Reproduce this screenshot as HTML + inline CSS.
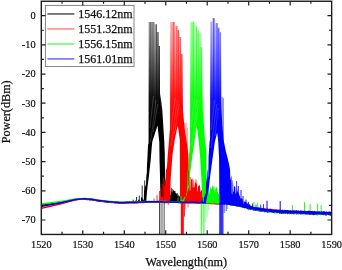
<!DOCTYPE html>
<html lang="en">
<head>
<meta charset="utf-8">
<title>Spectrum</title>
<style>
html,body{margin:0;padding:0;background:#fff;}
body{width:342px;height:270px;overflow:hidden;}
svg{display:block;}
text{font-family:"Liberation Serif","Times New Roman",serif;fill:#111;}
.tk{font-size:10.3px;stroke:#111;stroke-width:0.2px;}
.lb{font-size:12.2px;stroke:#111;stroke-width:0.25px;}
.lg{font-size:12px;stroke:#111;stroke-width:0.25px;}
</style>
</head>
<body>
<svg width="342" height="270" viewBox="0 0 342 270">
<defs>
<clipPath id="clip"><rect x="41.3" y="1.25" width="290.35" height="233.2"/></clipPath>
<linearGradient id="grad_k" gradientUnits="userSpaceOnUse" x1="0" y1="20" x2="0" y2="120"><stop offset="0" stop-color="#000000" stop-opacity="0.22"/><stop offset="0.25" stop-color="#000000" stop-opacity="0.38"/><stop offset="0.5" stop-color="#000000" stop-opacity="0.62"/><stop offset="0.78" stop-color="#000000" stop-opacity="0.9"/><stop offset="1" stop-color="#000000" stop-opacity="1"/></linearGradient>
<linearGradient id="grad_r" gradientUnits="userSpaceOnUse" x1="0" y1="20" x2="0" y2="120"><stop offset="0" stop-color="#ff0000" stop-opacity="0.22"/><stop offset="0.25" stop-color="#ff0000" stop-opacity="0.38"/><stop offset="0.5" stop-color="#ff0000" stop-opacity="0.62"/><stop offset="0.78" stop-color="#ff0000" stop-opacity="0.9"/><stop offset="1" stop-color="#ff0000" stop-opacity="1"/></linearGradient>
<linearGradient id="grad_g" gradientUnits="userSpaceOnUse" x1="0" y1="20" x2="0" y2="120"><stop offset="0" stop-color="#00ff00" stop-opacity="0.22"/><stop offset="0.25" stop-color="#00ff00" stop-opacity="0.38"/><stop offset="0.5" stop-color="#00ff00" stop-opacity="0.62"/><stop offset="0.78" stop-color="#00ff00" stop-opacity="0.9"/><stop offset="1" stop-color="#00ff00" stop-opacity="1"/></linearGradient>
<linearGradient id="grad_b" gradientUnits="userSpaceOnUse" x1="0" y1="20" x2="0" y2="120"><stop offset="0" stop-color="#0000ff" stop-opacity="0.22"/><stop offset="0.25" stop-color="#0000ff" stop-opacity="0.38"/><stop offset="0.5" stop-color="#0000ff" stop-opacity="0.62"/><stop offset="0.78" stop-color="#0000ff" stop-opacity="0.9"/><stop offset="1" stop-color="#0000ff" stop-opacity="1"/></linearGradient>
</defs>
<rect width="342" height="270" fill="#fff"/>
<g clip-path="url(#clip)">
<g id="trace_k">
<path d="M41.3,204.65 41.55,204.61 41.8,204.57 42.05,204.53 42.3,204.49 42.55,204.45 42.8,204.41 43.05,204.37 43.3,204.33 43.55,204.29 43.8,204.26 44.05,204.22 44.3,204.18 44.55,204.14 44.8,204.1 45.05,204.06 45.3,204.02 45.55,203.98 45.8,203.94 46.05,203.9 46.3,203.86 46.55,203.82 46.8,203.78 47.05,203.74 47.3,203.7 47.55,203.66 47.8,203.62 48.05,203.58 48.3,203.55 48.55,203.51 48.8,203.47 49.05,203.43 49.3,203.39 49.55,203.35 49.8,203.31 50.05,203.27 50.3,203.23 50.55,203.19 50.8,203.15 51.05,203.11 51.3,203.07 51.55,203.03 51.8,202.99 52.05,202.95 52.3,202.91 52.55,202.87 52.8,202.83 53.05,202.8 53.3,202.76 53.55,202.72 53.8,202.68 54.05,202.64 54.3,202.6 54.55,202.56 54.8,202.52 55.05,202.48 55.3,202.44 55.55,202.4 55.8,202.36 56.05,202.32 56.3,202.28 56.55,202.24 56.8,202.2 57.05,202.16 57.3,202.12 57.55,202.09 57.8,202.05 58.05,202.01 58.3,201.97 58.55,201.93 58.8,201.89 59.05,201.85 59.3,201.81 59.55,201.77 59.8,201.73 60.05,201.69 60.3,201.64 60.55,201.59 60.8,201.54 61.05,201.49 61.3,201.43 61.55,201.38 61.8,201.33 62.05,201.28 62.3,201.23 62.55,201.18 62.8,201.13 63.05,201.08 63.3,201.03 63.55,200.98 63.8,200.93 64.05,200.88 64.3,200.83 64.55,200.78 64.8,200.73 65.05,200.67 65.3,200.62 65.55,200.57 65.8,200.52 66.05,200.47 66.3,200.42 66.55,200.37 66.8,200.32 67.05,200.27 67.3,200.22 67.55,200.17 67.8,200.12 68.05,200.07 68.3,200.02 68.55,199.97 68.8,199.91 69.05,199.86 69.3,199.81 69.55,199.76 69.8,199.71 70.05,199.66 70.3,199.61 70.55,199.56 70.8,199.51 71.05,199.46 71.3,199.41 71.55,199.36 71.8,199.31 72.05,199.26 72.3,199.21 72.55,199.15 72.8,199.1 73.05,199.05 73.3,199 73.55,198.95 73.8,198.9 74.05,198.85 74.3,198.8 74.55,198.75 74.8,198.7 75.05,198.65 75.3,198.63 75.55,198.61 75.8,198.59 76.05,198.57 76.3,198.55 76.55,198.53 76.8,198.51 77.05,198.49 77.3,198.47 77.55,198.45 77.8,198.43 78.05,198.41 78.3,198.39 78.55,198.37 78.8,198.35 79.05,198.33 79.3,198.31 79.55,198.29 79.8,198.27 80.05,198.25 80.3,198.23 80.55,198.21 80.8,198.19 81.05,198.17 81.3,198.15 81.55,198.13 81.8,198.11 82.05,198.09 82.3,198.07 82.55,198.05 82.8,198.03 83.05,198.31 83.3,198.28 83.55,198.26 83.8,198.26 84.05,198.28 84.3,198.3 84.55,198.32 84.8,198.34 85.05,198.35 85.3,198.37 85.55,198.39 85.8,198.41 86.05,198.43 86.3,198.44 86.55,198.46 86.8,198.48 87.05,198.5 87.3,198.51 87.55,198.53 87.8,198.55 88.05,198.57 88.3,198.59 88.55,198.6 88.8,198.62 89.05,198.64 89.3,198.66 89.55,198.68 89.8,198.69 90.05,198.71 90.3,198.73 90.55,198.75 90.8,198.76 91.05,198.78 91.3,198.8 91.55,198.82 91.8,198.84 92.05,198.86 92.3,198.91 92.55,198.95 92.8,199 93.05,199.04 93.3,199.09 93.55,199.13 93.8,199.18 94.05,199.23 94.3,199.27 94.55,199.32 94.8,199.36 95.05,199.41 95.3,199.46 95.55,199.5 95.8,199.55 96.05,199.59 96.3,199.64 96.55,199.68 96.8,199.73 97.05,199.78 97.3,199.82 97.55,199.87 97.8,199.91 98.05,199.96 98.3,199.99 98.55,200.01 98.8,200.04 99.05,200.07 99.3,200.1 99.55,200.13 99.8,200.16 100.05,200.19 100.3,200.22 100.55,200.25 100.8,200.28 101.05,200.31 101.3,200.34 101.55,200.36 101.8,200.39 102.05,200.42 102.3,200.45 102.55,200.48 102.8,200.51 103.05,200.54 103.3,200.57 103.55,200.6 103.8,200.63 104.05,200.66 104.3,200.69 104.55,200.71 104.8,200.74 105.05,200.77 105.3,200.8 105.55,200.83 105.8,200.86 106.05,200.89 106.3,200.92 106.55,200.95 106.8,200.98 107.05,201.01 107.3,201.04 107.55,201.06 107.8,201.09 108.05,201.12 108.3,201.15 108.55,201.18 108.8,201.21 109.05,201.24 109.3,201.27 109.55,201.3 109.8,201.33 110.05,201.35 110.3,201.37 110.55,201.39 110.8,201.41 111.05,201.42 111.3,201.44 111.55,201.46 111.8,201.48 112.05,201.49 112.3,201.51 112.55,201.53 112.8,201.55 113.05,201.56 113.3,201.58 113.55,201.6 113.8,201.62 114.05,201.63 114.3,201.65 114.55,201.67 114.8,201.69 115.05,201.7 115.3,201.72 115.55,201.74 115.8,201.76 116.05,201.77 116.3,201.79 116.55,201.81 116.8,201.83 117.05,201.84 117.3,201.86 117.55,201.88 117.8,201.9 118.05,201.91 118.3,201.93 118.55,201.95 118.8,201.97 119.05,201.98 119.3,202 119.55,202.02 119.8,202.04 120.05,202.05 120.3,202.04 120.55,202.04 120.8,202.03 121.05,202.03 121.3,202.02 121.55,202.02 121.8,202.01 122.05,202.01 122.3,202 122.55,202 122.8,201.99 123.05,201.99 123.3,201.98 123.55,201.98 123.8,201.97 124.05,201.97 124.3,201.96 124.55,201.96 124.8,201.95 125.05,201.95 125.3,201.94 125.55,201.94 125.8,201.93 126.05,201.93 126.3,201.92 126.55,201.92 126.8,201.91 127.05,201.91 127.3,201.9 127.55,201.9 127.8,201.89 128.05,201.89 128.3,201.88 128.55,201.88 128.8,201.87 129.05,201.87 129.3,201.86 129.55,201.86 129.8,201.85 130.05,201.85 130.3,201.84 130.55,201.84 130.8,201.83 131.05,201.77 131.3,201.82 131.55,201.77 131.8,201.72 132.05,201.81 132.3,201.8 132.55,201.8 132.8,201.43 133.05,201.37 133.3,201.32 133.55,201.78 133.8,201.77 134.05,201.77 134.3,201.76 134.55,201.76 134.8,201.75 135.05,200.53 135.3,200.47 135.55,200.4 135.8,201.54 136.05,201.5 136.3,201.44 136.55,201.7 136.8,201.69 137.05,201.68 137.3,201.67 137.55,201.66 137.8,201.66 138.05,200.25 138.3,200.17 138.55,200.08 138.8,199.57 139.05,199.44 139.3,199.18 139.55,201.6 139.8,201.59 140.05,201.55 140.3,201.57 140.55,201.56 140.8,201.52 141.05,197.51 141.3,197.07 141.55,196.62 141.8,198.17 142.05,197.86 142.3,197.56 142.55,199.54 142.8,199.35 143.05,199.15 143.3,200.09 143.55,199.96 143.8,199.83 144.05,191.17 144.3,190.54 144.55,189.8 144.8,186.37 145.05,185.48 145.3,184.59 145.55,187.24 145.8,186.06 146.05,184.78 146.3,176.13 146.55,174.3 146.8,172.29 147.05,163.2 147.3,160.74 147.55,154.64 147.8,149.29 148.05,144.83 148.3,144 148.55,143.17 148.8,22 149.05,22 149.3,22 149.55,22 149.8,22 150.05,22 150.3,22 150.55,22 150.8,22 151.05,22 151.3,22 151.55,22 151.8,22 152.05,22 152.3,22 152.55,22 152.8,22 153.05,22 153.3,22 153.55,22 153.8,22 154.05,22 154.3,22 154.55,22 154.8,24.2 155.05,24.2 155.3,24.2 155.55,24.2 155.8,24.2 156.05,24.2 156.3,24.2 156.55,24.2 156.8,24.2 157.05,32 157.3,32 157.55,32 157.8,32 158.05,32 158.3,32 158.55,32 158.8,46 159.05,46 159.3,46 159.55,46 159.8,46 160.05,93.62 160.3,95.24 160.55,96.85 160.8,98.47 161.05,100.09 161.3,101.71 161.55,103.44 161.8,105.63 162.05,107.81 162.3,110 162.55,114 162.8,118 163.05,122 163.3,126 163.55,130 163.8,134 164.05,138 164.3,142 164.55,148.67 164.8,153.38 165.05,179.36 165.3,181.53 165.55,183.7 165.8,178.01 166.05,180.21 166.3,181.73 166.55,189.26 166.8,189.74 167.05,190.21 167.3,179.38 167.55,180.32 167.8,181.26 168.05,183.1 168.3,183.73 168.55,184.37 168.8,185.04 169.05,185.67 169.3,186.31 169.55,186.2 169.8,186.45 170.05,186.7 170.3,195.14 170.55,195.26 170.8,195.37 171.05,187.54 171.3,187.71 171.55,187.88 171.8,192.23 172.05,192.34 172.3,192.46 172.55,188.58 172.8,188.75 173.05,188.91 173.3,190.16 173.55,190.31 173.8,190.46 174.05,191 174.3,191.19 174.55,191.38 174.8,190.46 175.05,190.67 175.3,190.89 175.55,192.88 175.8,193.06 176.05,193.24 176.3,193.53 176.55,193.71 176.8,193.89 177.05,192.83 177.3,193.04 177.55,193.24 177.8,196.2 178.05,196.38 178.3,196.7 178.55,194.24 178.8,194.73 179.05,195.22 179.3,195.76 179.55,196.25 179.8,196.74 180.05,197.48 180.3,197.67 180.55,197.86 180.8,198.11 181.05,198.3 181.3,198.49 181.55,198.41 181.8,198.61 182.05,198.81 182.3,200.84 182.55,200.94 182.8,201.04 183.05,200.82 183.3,200.88 183.55,200.94 183.8,199.84 184.05,199.94 184.3,200.04 184.55,200.33 184.8,200.42 185.05,200.51 185.3,200.49 185.55,200.59 185.8,200.69 186.05,200.95 186.3,201.04 186.55,201.13 186.8,201.09 187.05,201.19 187.3,201.28 187.55,201.51 187.8,201.6 188.05,201.67 188.3,201.76 188.55,201.76 188.8,201.77 189.05,201.77 189.3,201.77 189.55,201.78 189.8,201.78 190.05,201.78 190.3,201.79 190.55,201.79 190.8,201.79 191.05,201.8 191.3,201.8 191.55,201.8 191.8,201.81 192.05,201.81 192.3,201.81 192.55,201.82 192.8,201.82 193.05,201.82 193.3,201.83 193.55,201.83 193.8,201.83 194.05,201.84 194.3,201.84 194.55,201.84 194.8,201.85 195.05,201.85 195.3,201.86 195.55,201.87 195.8,201.88 196.05,201.89 196.3,201.9 196.55,201.91 196.8,201.92 197.05,201.93 197.3,201.94 197.55,201.95 197.8,201.96 198.05,201.97 198.3,201.98 198.55,201.99 198.8,202 199.05,202.01 199.3,202.02 199.55,202.03 199.8,202.04 200.05,202.05 200.3,202.06 200.55,202.07 200.8,202.08 201.05,202.09 201.3,202.1 201.55,202.11 201.8,202.12 202.05,202.13 202.3,202.14 202.55,202.15 202.8,202.16 203.05,202.17 203.3,202.18 203.55,202.19 203.8,202.2 204.05,202.21 204.3,202.22 204.55,202.23 204.8,202.24 205.05,202.25 205.3,202.26 205.55,202.27 205.8,202.28 206.05,202.29 206.3,202.3 206.55,202.31 206.8,202.32 207.05,202.33 207.3,202.34 207.55,202.35 207.8,202.36 208.05,202.37 208.3,202.38 208.55,202.39 208.8,202.4 209.05,202.41 209.3,202.42 209.55,202.43 209.8,202.44 210.05,202.45 210.3,202.46 210.55,202.47 210.8,202.48 211.05,202.49 211.3,202.5 211.55,202.51 211.8,202.52 212.05,202.53 212.3,202.54 212.55,202.55 212.8,202.56 213.05,202.57 213.3,202.58 213.55,202.59 213.8,202.6 214.05,202.61 214.3,202.62 214.55,202.63 214.8,202.64 215.05,202.65 215.3,202.66 215.55,202.67 215.8,202.68 216.05,202.69 216.3,202.7 216.55,202.71 216.8,202.72 217.05,202.73 217.3,202.74 217.55,202.75 217.8,202.76 218.05,202.77 218.3,202.78 218.55,202.79 218.8,202.8 219.05,202.81 219.3,202.82 219.55,202.83 219.8,202.84 220.05,202.85 220.3,202.86 220.55,202.87 220.8,202.88 221.05,202.89 221.3,202.9 221.55,202.91 221.8,202.92 222.05,202.93 222.3,202.94 222.55,202.95 222.8,202.96 223.05,202.97 223.3,202.98 223.55,202.99 223.8,203 224.05,203.01 224.3,203.02 224.55,203.03 224.8,203.04 225.05,202.76 225.3,202.8 225.55,202.84 225.8,202.88 226.05,202.92 226.3,202.96 226.55,203 226.8,203.04 227.05,203.08 227.3,203.11 227.55,203.15 227.8,203.19 228.05,203.23 228.3,203.27 228.55,203.31 228.8,203.35 229.05,203.39 229.3,203.43 229.55,203.47 229.8,203.51 230.05,203.55 230.3,203.59 230.55,203.63 230.8,203.67 231.05,203.71 231.3,203.75 231.55,203.79 231.8,203.83 232.05,203.87 232.3,203.92 232.55,203.95 232.8,203.99 233.05,204.04 233.3,204.07 233.55,204.12 233.8,204.16 234.05,204.2 234.3,204.24 234.55,204.29 234.8,204.41 235.05,204.45 235.3,204.5 235.55,204.45 235.8,204.49 236.05,204.53 236.3,204.56 236.55,204.6 236.8,204.64 237.05,204.81 237.3,204.86 237.55,204.9 237.8,204.99 238.05,205.04 238.3,205.09 238.55,205.13 238.8,205.18 239.05,205.23 239.3,205.17 239.55,205.21 239.8,205.26 240.05,205.49 240.3,205.56 240.55,205.64 240.8,205.4 241.05,205.46 241.3,205.53 241.55,205.72 241.8,205.79 242.05,205.86 242.3,205.89 242.55,205.96 242.8,206.03 243.05,206.19 243.3,206.26 243.55,206.33 243.8,206.21 244.05,206.27 244.3,206.34 244.55,206.38 244.8,206.44 245.05,206.51 245.3,207.09 245.55,207.17 245.8,207.24 246.05,206.87 246.3,206.94 246.55,207.01 246.8,207.21 247.05,207.28 247.3,207.34 247.55,207.7 247.8,207.76 248.05,207.83 248.3,207.46 248.55,207.52 248.8,207.59 249.05,207.7 249.3,207.76 249.55,207.83 249.8,208.03 250.05,208.09 250.3,208.14 250.55,207.84 250.8,207.89 251.05,207.94 251.3,207.96 251.55,208.01 251.8,208.06 252.05,208.54 252.3,208.59 252.55,208.64 252.8,208.5 253.05,208.55 253.3,208.6 253.55,208.45 253.8,208.5 254.05,208.55 254.3,208.75 254.55,208.8 254.8,208.85 255.05,209.18 255.3,209.22 255.55,209.26 255.8,209.34 256.05,209.38 256.3,209.42 256.55,209.28 256.8,209.32 257.05,209.36 257.3,209.2 257.55,209.24 257.8,209.28 258.05,209.75 258.3,209.79 258.55,209.83 258.8,209.43 259.05,209.47 259.3,209.51 259.55,209.93 259.8,209.97 260.05,210.01 260.3,209.63 260.55,209.67 260.8,209.7 261.05,210.29 261.3,210.33 261.55,210.37 261.8,210.3 262.05,210.33 262.3,210.37 262.55,210.22 262.8,210.26 263.05,210.3 263.3,210.29 263.55,210.33 263.8,210.37 264.05,210.51 264.3,210.53 264.55,210.55 264.8,210.63 265.05,210.65 265.3,210.67 265.55,210.62 265.8,210.64 266.05,210.66 266.3,210.78 266.55,210.8 266.8,210.82 267.05,210.42 267.3,210.44 267.55,210.46 267.8,210.71 268.05,210.73 268.3,210.75 268.55,211.01 268.8,211.03 269.05,211.05 269.3,210.85 269.55,210.87 269.8,210.9 270.05,211.29 270.3,211.31 270.55,211.33 270.8,211.05 271.05,211.07 271.3,211.09 271.55,210.95 271.8,210.97 272.05,211 272.3,211.42 272.55,211.44 272.8,211.47 273.05,211.16 273.3,211.18 273.55,211.2 273.8,211.31 274.05,211.33 274.3,211.35 274.55,211.44 274.8,211.46 275.05,211.48 275.3,211.65 275.55,211.67 275.8,211.69 276.05,211.26 276.3,211.28 276.55,211.3 276.8,211.79 277.05,211.81 277.3,211.83 277.55,211.64 277.8,211.66 278.05,211.68 278.3,211.56 278.55,211.58 278.8,211.6 279.05,211.6 279.3,211.62 279.55,211.64 279.8,212.12 280.05,212.14 280.3,212.16 280.55,212.16 280.8,212.18 281.05,212.2 281.3,211.94 281.55,211.96 281.8,211.98 282.05,211.86 282.3,211.88 282.55,211.9 282.8,212.36 283.05,212.38 283.3,212.39 283.55,211.73 283.8,211.74 284.05,211.75 284.3,211.78 284.55,211.79 284.8,211.8 285.05,212.12 285.3,212.13 285.55,212.14 285.8,212.21 286.05,212.22 286.3,212.23 286.55,211.84 286.8,211.85 287.05,211.85 287.3,211.99 287.55,212 287.8,212.01 288.05,211.95 288.3,211.96 288.55,211.97 288.8,212.09 289.05,212.1 289.3,212.11 289.55,212.07 289.8,212.08 290.05,212.09 290.3,212.06 290.55,212.07 290.8,212.08 291.05,212.09 291.3,212.1 291.55,212.11 291.8,212.29 292.05,212.3 292.3,212.3 292.55,212.14 292.8,212.15 293.05,212.16 293.3,212.62 293.55,212.63 293.8,212.64 294.05,212.39 294.3,212.4 294.55,212.41 294.8,212.22 295.05,212.23 295.3,212.24 295.55,212.62 295.8,212.63 296.05,212.64 296.3,212.74 296.55,212.75 296.8,212.76 297.05,212.47 297.3,212.48 297.55,212.49 297.8,212.25 298.05,212.26 298.3,212.27 298.55,212.73 298.8,212.74 299.05,212.75 299.3,212.83 299.55,212.84 299.8,212.85 300.05,212.95 300.3,212.96 300.55,212.97 300.8,212.86 301.05,212.87 301.3,212.88 301.55,212.8 301.8,212.81 302.05,212.82 302.3,212.65 302.55,212.66 302.8,212.67 303.05,212.61 303.3,212.62 303.55,212.63 303.8,212.52 304.05,212.53 304.3,212.53 304.55,213.07 304.8,213.08 305.05,213.09 305.3,212.92 305.55,212.93 305.8,212.94 306.05,212.76 306.3,212.76 306.55,212.77 306.8,212.67 307.05,212.68 307.3,212.69 307.55,212.81 307.8,212.82 308.05,212.83 308.3,213.17 308.55,213.18 308.8,213.19 309.05,212.82 309.3,212.83 309.55,212.83 309.8,212.73 310.05,212.74 310.3,212.75 310.55,212.99 310.8,213 311.05,213 311.3,212.98 311.55,212.99 311.8,213 312.05,213.26 312.3,213.27 312.55,213.28 312.8,213.19 313.05,213.2 313.3,213.21 313.55,213.16 313.8,213.17 314.05,213.18 314.3,213.54 314.55,213.55 314.8,213.56 315.05,213.48 315.3,213.49 315.55,213.5 315.8,213 316.05,213.01 316.3,213.02 316.55,213.12 316.8,213.13 317.05,213.13 317.3,213.26 317.55,213.27 317.8,213.28 318.05,213.05 318.3,213.06 318.55,213.07 318.8,213.56 319.05,213.57 319.3,213.58 319.55,213.59 319.8,213.6 320.05,213.61 320.3,213.29 320.55,213.3 320.8,213.3 321.05,213.74 321.3,213.75 321.55,213.76 321.8,213.52 322.05,213.53 322.3,213.54 322.55,213.32 322.8,213.33 323.05,213.34 323.3,213.63 323.55,213.64 323.8,213.65 324.05,213.69 324.3,213.7 324.55,213.71 324.8,213.75 325.05,213.76 325.3,213.77 325.55,213.96 325.8,213.97 326.05,213.97 326.3,213.94 326.55,213.95 326.8,213.96 327.05,213.62 327.3,213.63 327.55,213.64 327.8,213.66 328.05,213.67 328.3,213.68 328.55,213.4 328.8,213.41 329.05,213.42 329.3,213.71 329.55,213.72 329.8,213.73 330.05,213.57 330.3,213.58 330.55,213.59 330.8,213.55 331.05,213.56 331.3,213.57 331.55,214.07 L331.55,215.51 331.3,215.43 331.05,215.42 330.8,215.41 330.55,215.74 330.3,215.73 330.05,215.72 329.8,215.21 329.55,215.2 329.3,215.19 329.05,215.38 328.8,215.37 328.55,215.36 328.3,214.98 328.05,214.97 327.8,214.96 327.55,215.09 327.3,215.08 327.05,215.07 326.8,215.46 326.55,215.45 326.3,215.44 326.05,215.5 325.8,215.49 325.55,215.48 325.3,215.38 325.05,215.37 324.8,215.36 324.55,214.85 324.3,214.84 324.05,214.83 323.8,215.17 323.55,215.16 323.3,215.15 323.05,214.8 322.8,214.79 322.55,214.78 322.3,214.91 322.05,214.9 321.8,214.89 321.55,215.01 321.3,215 321.05,214.99 320.8,215.18 320.55,215.17 320.3,215.16 320.05,214.76 319.8,214.75 319.55,214.74 319.3,214.71 319.05,214.7 318.8,214.69 318.55,214.9 318.3,214.89 318.05,214.88 317.8,215.35 317.55,215.34 317.3,215.33 317.05,215.22 316.8,215.21 316.55,215.2 316.3,214.75 316.05,214.74 315.8,214.73 315.55,214.79 315.3,214.78 315.05,214.77 314.8,214.93 314.55,214.92 314.3,214.91 314.05,215.21 313.8,215.2 313.55,215.19 313.3,214.69 313.05,214.68 312.8,214.67 312.55,215.13 312.3,215.12 312.05,215.11 311.8,214.59 311.55,214.58 311.3,214.58 311.05,214.45 310.8,214.44 310.55,214.43 310.3,214.96 310.05,214.95 309.8,214.94 309.55,214.85 309.3,214.84 309.05,214.83 308.8,214.59 308.55,214.58 308.3,214.57 308.05,214.28 307.8,214.27 307.55,214.26 307.3,214.71 307.05,214.7 306.8,214.69 306.55,214.17 306.3,214.17 306.05,214.16 305.8,214.22 305.55,214.21 305.3,214.2 305.05,214.29 304.8,214.28 304.55,214.27 304.3,214.17 304.05,214.16 303.8,214.15 303.55,214.22 303.3,214.21 303.05,214.2 302.8,214.3 302.55,214.29 302.3,214.28 302.05,214.34 301.8,214.33 301.55,214.32 301.3,214.36 301.05,214.35 300.8,214.34 300.55,214.57 300.3,214.56 300.05,214.55 299.8,214.02 299.55,214.01 299.3,214 299.05,214.4 298.8,214.39 298.55,214.39 298.3,213.77 298.05,213.76 297.8,213.75 297.55,214.27 297.3,214.26 297.05,214.25 296.8,214.47 296.55,214.46 296.3,214.45 296.05,214.05 295.8,214.04 295.55,214.03 295.3,214.06 295.05,214.05 294.8,214.04 294.55,214.23 294.3,214.22 294.05,214.21 293.8,214.31 293.55,214.3 293.3,214.29 293.05,213.88 292.8,213.87 292.55,213.86 292.3,213.97 292.05,213.96 291.8,213.95 291.55,214.34 291.3,214.33 291.05,214.33 290.8,213.73 290.55,213.72 290.3,213.71 290.05,214.15 289.8,214.14 289.55,214.13 289.3,213.49 289.05,213.48 288.8,213.47 288.55,214.02 288.3,214.01 288.05,214 287.8,214.15 287.55,214.14 287.3,214.14 287.05,213.5 286.8,213.49 286.55,213.48 286.3,213.95 286.05,213.94 285.8,213.93 285.55,213.71 285.3,213.7 285.05,213.69 284.8,213.28 284.55,213.27 284.3,213.26 284.05,214.09 283.8,214.08 283.55,214.07 283.3,213.54 283.05,213.53 282.8,213.52 282.55,213.79 282.3,213.77 282.05,213.75 281.8,213.96 281.55,213.93 281.3,213.91 281.05,213.59 280.8,213.57 280.55,213.55 280.3,213.74 280.05,213.72 279.8,213.7 279.55,213.46 279.3,213.44 279.05,213.42 278.8,213.01 278.55,212.99 278.3,212.97 278.05,213.22 277.8,213.2 277.55,213.18 277.3,213.12 277.05,213.1 276.8,213.08 276.55,213.42 276.3,213.4 276.05,213.38 275.8,212.71 275.55,212.69 275.3,212.67 275.05,213.38 274.8,213.36 274.55,213.34 274.3,213.06 274.05,213.04 273.8,213.02 273.55,213.05 273.3,213.03 273.05,213.01 272.8,212.42 272.55,212.4 272.3,212.38 272.05,212.55 271.8,212.53 271.55,212.51 271.3,212.28 271.05,212.26 270.8,212.24 270.55,212.38 270.3,212.36 270.05,212.34 269.8,212.28 269.55,212.26 269.3,212.24 269.05,212.57 268.8,212.55 268.55,212.53 268.3,212.3 268.05,212.27 267.8,212.25 267.55,212.79 267.3,212.77 267.05,212.75 266.8,212.23 266.55,212.21 266.3,212.19 266.05,211.97 265.8,211.95 265.55,211.93 265.3,212.39 265.05,212.37 264.8,212.35 264.55,212.34 264.3,212.32 264.05,212.3 263.8,211.73 263.55,211.69 263.3,211.65 263.05,211.53 262.8,211.49 262.55,211.45 262.3,211.87 262.05,211.83 261.8,211.79 261.55,211.55 261.3,211.51 261.05,211.47 260.8,211.86 260.55,211.82 260.3,211.78 260.05,211.53 259.8,211.49 259.55,211.45 259.3,211.45 259.05,211.41 258.8,211.37 258.55,211.37 258.3,211.33 258.05,211.29 257.8,210.84 257.55,210.81 257.3,210.77 257.05,210.99 256.8,210.95 256.55,210.92 256.3,210.91 256.05,210.87 255.8,210.83 255.55,210.83 255.3,210.79 255.05,210.75 254.8,210.67 254.55,210.62 254.3,210.57 254.05,210.6 253.8,210.55 253.55,210.5 253.3,210.64 253.05,210.59 252.8,210.54 252.55,209.8 252.3,209.75 252.05,209.7 251.8,209.71 251.55,209.66 251.3,209.61 251.05,209.81 250.8,209.76 250.55,209.7 250.3,209.97 250.05,209.92 249.8,209.86 249.55,209.44 249.3,209.37 249.05,209.29 248.8,209.68 248.55,209.61 248.3,209.53 248.05,209.38 247.8,209.31 247.55,209.23 247.3,209.15 247.05,209.08 246.8,209.01 246.55,208.47 246.3,208.41 246.05,208.35 245.8,208.13 245.55,208.07 245.3,208.01 245.05,208.45 244.8,208.38 244.55,208.31 244.3,208 244.05,207.94 243.8,207.87 243.55,207.92 243.3,207.85 243.05,207.79 242.8,207.94 242.55,207.86 242.3,207.79 242.05,207.28 241.8,207.22 241.55,207.16 241.3,207.45 241.05,207.38 240.8,207.31 240.55,207.04 240.3,206.98 240.05,206.91 239.8,206.67 239.55,206.63 239.3,206.6 239.05,206.98 238.8,206.94 238.55,206.89 238.3,206.52 238.05,206.48 237.8,206.44 237.55,206.54 237.3,206.5 237.05,206.46 236.8,206.47 236.55,206.43 236.3,206.38 236.05,206.25 235.8,206.21 235.55,206.17 235.3,206.09 235.05,206.06 234.8,206.02 234.55,206.06 234.3,206.01 234.05,205.97 233.8,205.94 233.55,205.89 233.3,205.85 233.05,205.77 232.8,205.73 232.55,205.69 232.3,205.65 232.05,205.62 231.8,205.57 231.55,205.53 231.3,205.48 231.05,205.43 230.8,205.38 230.55,205.33 230.3,205.28 230.05,205.23 229.8,205.18 229.55,205.14 229.3,205.09 229.05,205.04 228.8,204.99 228.55,204.94 228.3,204.89 228.05,204.84 227.8,204.8 227.55,204.75 227.3,204.7 227.05,204.65 226.8,204.6 226.55,204.55 226.3,204.5 226.05,204.45 225.8,204.41 225.55,204.36 225.3,204.31 225.05,204.26 224.8,204.54 224.55,204.53 224.3,204.52 224.05,204.51 223.8,204.5 223.55,204.49 223.3,204.48 223.05,204.47 222.8,204.46 222.55,204.45 222.3,204.44 222.05,204.43 221.8,204.42 221.55,204.41 221.3,204.4 221.05,204.39 220.8,204.38 220.55,204.37 220.3,204.36 220.05,204.35 219.8,204.34 219.55,204.33 219.3,204.32 219.05,204.31 218.8,204.3 218.55,204.29 218.3,204.28 218.05,204.27 217.8,204.26 217.55,204.25 217.3,204.24 217.05,204.23 216.8,204.22 216.55,204.21 216.3,204.2 216.05,204.19 215.8,204.18 215.55,204.17 215.3,204.16 215.05,204.15 214.8,204.14 214.55,204.13 214.3,204.12 214.05,204.11 213.8,204.1 213.55,204.09 213.3,204.08 213.05,204.07 212.8,204.06 212.55,204.05 212.3,204.04 212.05,204.03 211.8,204.02 211.55,204.01 211.3,204 211.05,203.99 210.8,203.98 210.55,203.97 210.3,203.96 210.05,203.95 209.8,203.94 209.55,203.93 209.3,203.92 209.05,203.91 208.8,203.9 208.55,203.89 208.3,203.88 208.05,203.87 207.8,203.86 207.55,203.85 207.3,203.84 207.05,203.83 206.8,203.82 206.55,203.81 206.3,203.8 206.05,203.79 205.8,203.78 205.55,203.77 205.3,203.76 205.05,203.75 204.8,203.74 204.55,203.73 204.3,203.72 204.05,203.71 203.8,203.7 203.55,203.69 203.3,203.68 203.05,203.67 202.8,203.66 202.55,203.65 202.3,203.64 202.05,203.63 201.8,203.62 201.55,203.61 201.3,203.6 201.05,203.59 200.8,203.58 200.55,203.57 200.3,203.56 200.05,203.55 199.8,203.54 199.55,203.53 199.3,203.52 199.05,203.51 198.8,203.5 198.55,203.49 198.3,203.48 198.05,203.47 197.8,203.46 197.55,203.45 197.3,203.44 197.05,203.43 196.8,203.42 196.55,203.41 196.3,203.4 196.05,203.39 195.8,203.38 195.55,203.37 195.3,203.36 195.05,203.35 194.8,203.35 194.55,203.34 194.3,203.34 194.05,203.34 193.8,203.33 193.55,203.33 193.3,203.33 193.05,203.32 192.8,203.32 192.55,203.32 192.3,203.31 192.05,203.31 191.8,203.31 191.55,203.3 191.3,203.3 191.05,203.3 190.8,203.29 190.55,203.29 190.3,203.29 190.05,203.28 189.8,203.28 189.55,203.28 189.3,203.27 189.05,203.27 188.8,203.27 188.55,203.26 188.3,203.26 188.05,203.26 187.8,203.25 187.55,203.25 187.3,203.25 187.05,203.24 186.8,203.24 186.55,203.24 186.3,203.23 186.05,203.23 185.8,203.23 185.55,203.22 185.3,203.22 185.05,203.22 184.8,203.21 184.55,203.21 184.3,203.21 184.05,203.2 183.8,203.2 183.55,203.2 183.3,203.19 183.05,203.19 182.8,203.19 182.55,203.18 182.3,203.18 182.05,203.18 181.8,203.17 181.55,203.17 181.3,203.17 181.05,203.16 180.8,203.16 180.55,203.16 180.3,203.15 180.05,203.15 179.8,203.15 179.55,203.14 179.3,203.14 179.05,203.14 178.8,203.13 178.55,203.13 178.3,203.13 178.05,203.12 177.8,203.12 177.55,203.12 177.3,203.11 177.05,203.11 176.8,203.11 176.55,203.1 176.3,203.1 176.05,203.1 175.8,203.09 175.55,203.09 175.3,203.09 175.05,203.08 174.8,203.08 174.55,203.08 174.3,203.07 174.05,203.07 173.8,203.07 173.55,203.06 173.3,203.06 173.05,203.06 172.8,203.05 172.55,203.05 172.3,203.05 172.05,203.04 171.8,203.04 171.55,203.04 171.3,203.03 171.05,203.03 170.8,203.03 170.55,203.02 170.3,203.02 170.05,203.02 169.8,203.01 169.55,203.01 169.3,203.01 169.05,203 168.8,203 168.55,203 168.3,202.99 168.05,202.99 167.8,202.99 167.55,202.98 167.3,202.98 167.05,202.98 166.8,202.97 166.55,202.97 166.3,202.97 166.05,202.96 165.8,202.96 165.55,202.96 165.3,202.95 165.05,202.95 164.8,202.95 164.55,202.94 164.3,202.94 164.05,202.94 163.8,202.93 163.55,202.93 163.3,202.93 163.05,202.92 162.8,202.92 162.55,202.92 162.3,202.91 162.05,202.91 161.8,202.91 161.55,202.9 161.3,202.9 161.05,202.9 160.8,202.89 160.55,202.89 160.3,191.67 160.05,179 159.8,169 159.55,161.5 159.3,142 159.05,139.69 158.8,137.39 158.55,135.08 158.3,132.78 158.05,130.47 157.8,128.17 157.55,125.86 157.3,126.03 157.05,126.81 156.8,127.59 156.55,128.38 156.3,129.16 156.05,129.94 155.8,130.72 155.55,131.51 155.3,132.29 155.05,133.07 154.8,133.86 154.55,134.64 154.3,135.42 154.05,136.21 153.8,136.99 153.55,137.77 153.3,138.55 153.05,139.34 152.8,140.12 152.55,140.9 152.3,141.69 152.05,143.71 151.8,146.57 151.55,149.43 151.3,152.5 151.05,155.62 150.8,158.75 150.55,161.33 150.3,163.56 150.05,165.78 149.8,168 149.55,170.25 149.3,172.5 149.05,174.75 148.8,177 148.55,178.87 148.3,180.75 148.05,182.62 147.8,184.5 147.55,186.5 147.3,189 147.05,191.5 146.8,194 146.55,197.17 146.3,202.87 146.05,202.88 145.8,202.89 145.55,202.9 145.3,202.91 145.05,202.91 144.8,202.92 144.55,202.93 144.3,202.94 144.05,202.95 143.8,202.96 143.55,202.97 143.3,202.97 143.05,202.98 142.8,202.99 142.55,203 142.3,203.01 142.05,203.01 141.8,203.02 141.55,203.03 141.3,203.04 141.05,203.05 140.8,203.06 140.55,203.06 140.3,203.07 140.05,203.08 139.8,203.09 139.55,203.1 139.3,203.11 139.05,203.12 138.8,203.12 138.55,203.13 138.3,203.14 138.05,203.15 137.8,203.16 137.55,203.16 137.3,203.17 137.05,203.18 136.8,203.19 136.55,203.2 136.3,203.21 136.05,203.22 135.8,203.22 135.55,203.23 135.3,203.24 135.05,203.25 134.8,203.25 134.55,203.26 134.3,203.26 134.05,203.27 133.8,203.27 133.55,203.28 133.3,203.28 133.05,203.29 132.8,203.29 132.55,203.3 132.3,203.3 132.05,203.31 131.8,203.31 131.55,203.32 131.3,203.32 131.05,203.33 130.8,203.33 130.55,203.34 130.3,203.34 130.05,203.35 129.8,203.35 129.55,203.36 129.3,203.36 129.05,203.37 128.8,203.37 128.55,203.38 128.3,203.38 128.05,203.39 127.8,203.39 127.55,203.4 127.3,203.4 127.05,203.41 126.8,203.41 126.55,203.42 126.3,203.42 126.05,203.43 125.8,203.43 125.55,203.44 125.3,203.44 125.05,203.45 124.8,203.45 124.55,203.46 124.3,203.46 124.05,203.47 123.8,203.47 123.55,203.48 123.3,203.48 123.05,203.49 122.8,203.49 122.55,203.5 122.3,203.5 122.05,203.51 121.8,203.51 121.55,203.52 121.3,203.52 121.05,203.53 120.8,203.53 120.55,203.54 120.3,203.54 120.05,203.55 119.8,203.54 119.55,203.52 119.3,203.5 119.05,203.48 118.8,203.47 118.55,203.45 118.3,203.43 118.05,203.41 117.8,203.4 117.55,203.38 117.3,203.36 117.05,203.34 116.8,203.33 116.55,203.31 116.3,203.29 116.05,203.27 115.8,203.26 115.55,203.24 115.3,203.22 115.05,203.2 114.8,203.19 114.55,203.17 114.3,203.15 114.05,203.13 113.8,203.12 113.55,203.1 113.3,203.08 113.05,203.06 112.8,203.05 112.55,203.03 112.3,203.01 112.05,202.99 111.8,202.98 111.55,202.96 111.3,202.94 111.05,202.92 110.8,202.91 110.55,202.89 110.3,202.87 110.05,202.85 109.8,202.83 109.55,202.8 109.3,202.77 109.05,202.74 108.8,202.71 108.55,202.68 108.3,202.65 108.05,202.62 107.8,202.59 107.55,202.56 107.3,202.54 107.05,202.51 106.8,202.48 106.55,202.45 106.3,202.42 106.05,202.39 105.8,202.36 105.55,202.33 105.3,202.3 105.05,202.27 104.8,202.24 104.55,202.21 104.3,202.19 104.05,202.16 103.8,202.13 103.55,202.1 103.3,202.07 103.05,202.04 102.8,202.01 102.55,201.98 102.3,201.95 102.05,201.92 101.8,201.89 101.55,201.86 101.3,201.84 101.05,201.81 100.8,201.78 100.55,201.75 100.3,201.72 100.05,201.69 99.8,201.66 99.55,201.63 99.3,201.6 99.05,201.57 98.8,201.54 98.55,201.51 98.3,201.49 98.05,201.46 97.8,201.41 97.55,201.37 97.3,201.32 97.05,201.28 96.8,201.23 96.55,201.18 96.3,201.14 96.05,201.09 95.8,201.05 95.55,201 95.3,200.96 95.05,200.91 94.8,200.86 94.55,200.82 94.3,200.77 94.05,200.73 93.8,200.68 93.55,200.63 93.3,200.59 93.05,200.54 92.8,200.5 92.55,200.45 92.3,200.41 92.05,200.36 91.8,200.34 91.55,200.32 91.3,200.3 91.05,200.28 90.8,200.26 90.55,200.25 90.3,200.23 90.05,200.21 89.8,200.19 89.55,200.18 89.3,200.16 89.05,200.14 88.8,200.12 88.55,200.1 88.3,200.09 88.05,200.07 87.8,200.05 87.55,200.03 87.3,200.01 87.05,200 86.8,199.98 86.55,199.96 86.3,199.94 86.05,199.93 85.8,199.91 85.55,199.89 85.3,199.87 85.05,199.85 84.8,199.84 84.55,199.82 84.3,199.8 84.05,199.78 83.8,199.76 83.55,199.76 83.3,199.78 83.05,199.81 82.8,199.53 82.55,199.55 82.3,199.57 82.05,199.59 81.8,199.61 81.55,199.63 81.3,199.65 81.05,199.67 80.8,199.69 80.55,199.71 80.3,199.73 80.05,199.75 79.8,199.77 79.55,199.79 79.3,199.81 79.05,199.83 78.8,199.85 78.55,199.87 78.3,199.89 78.05,199.91 77.8,199.93 77.55,199.95 77.3,199.97 77.05,199.99 76.8,200.01 76.55,200.03 76.3,200.05 76.05,200.07 75.8,200.09 75.55,200.11 75.3,200.13 75.05,200.15 74.8,200.2 74.55,200.25 74.3,200.3 74.05,200.35 73.8,200.4 73.55,200.45 73.3,200.5 73.05,200.55 72.8,200.6 72.55,200.65 72.3,200.71 72.05,200.76 71.8,200.81 71.55,200.86 71.3,200.91 71.05,200.96 70.8,201.01 70.55,201.06 70.3,201.11 70.05,201.16 69.8,201.21 69.55,201.26 69.3,201.31 69.05,201.36 68.8,201.41 68.55,201.47 68.3,201.52 68.05,201.57 67.8,201.62 67.55,201.67 67.3,201.72 67.05,201.77 66.8,201.82 66.55,201.87 66.3,201.92 66.05,201.97 65.8,202.02 65.55,202.07 65.3,202.12 65.05,202.17 64.8,202.23 64.55,202.28 64.3,202.33 64.05,202.38 63.8,202.43 63.55,202.48 63.3,202.53 63.05,202.58 62.8,202.63 62.55,202.68 62.3,202.73 62.05,202.78 61.8,202.83 61.55,202.88 61.3,202.93 61.05,202.99 60.8,203.04 60.55,203.09 60.3,203.14 60.05,203.19 59.8,203.23 59.55,203.27 59.3,203.31 59.05,203.35 58.8,203.39 58.55,203.43 58.3,203.47 58.05,203.51 57.8,203.55 57.55,203.59 57.3,203.62 57.05,203.66 56.8,203.7 56.55,203.74 56.3,203.78 56.05,203.82 55.8,203.86 55.55,203.9 55.3,203.94 55.05,203.98 54.8,204.02 54.55,204.06 54.3,204.1 54.05,204.14 53.8,204.18 53.55,204.22 53.3,204.26 53.05,204.3 52.8,204.33 52.55,204.37 52.3,204.41 52.05,204.45 51.8,204.49 51.55,204.53 51.3,204.57 51.05,204.61 50.8,204.65 50.55,204.69 50.3,204.73 50.05,204.77 49.8,204.81 49.55,204.85 49.3,204.89 49.05,204.93 48.8,204.97 48.55,205.01 48.3,205.05 48.05,205.08 47.8,205.12 47.55,205.16 47.3,205.2 47.05,205.24 46.8,205.28 46.55,205.32 46.3,205.36 46.05,205.4 45.8,205.44 45.55,205.48 45.3,205.52 45.05,205.56 44.8,205.6 44.55,205.64 44.3,205.68 44.05,205.72 43.8,205.76 43.55,205.79 43.3,205.83 43.05,205.87 42.8,205.91 42.55,205.95 42.3,205.99 42.05,206.03 41.8,206.07 41.55,206.11 41.3,206.15Z" fill="url(#grad_k)"/>
<g stroke="#000000"><line x1="149.2" y1="22" x2="149.2" y2="112" stroke-width="1" stroke-opacity="0.3"/><line x1="150.4" y1="22" x2="150.4" y2="112" stroke-width="1" stroke-opacity="0.45"/><line x1="151.7" y1="22" x2="151.7" y2="112" stroke-width="1" stroke-opacity="0.3"/><line x1="152.9" y1="22" x2="152.9" y2="112" stroke-width="1" stroke-opacity="0.42"/><line x1="154" y1="22" x2="154" y2="112" stroke-width="0.9" stroke-opacity="0.3"/><line x1="156.3" y1="24.2" x2="156.3" y2="112" stroke-width="0.9" stroke-opacity="0.7"/><line x1="158" y1="32" x2="158" y2="112" stroke-width="0.9" stroke-opacity="0.7"/><line x1="159.4" y1="46" x2="159.4" y2="112" stroke-width="0.9" stroke-opacity="0.75"/></g>
<line x1="153.5" y1="96" x2="150" y2="128" stroke="#fff" stroke-width="0.6" stroke-opacity="0.3"/>
<line x1="156" y1="100" x2="150.6" y2="142" stroke="#fff" stroke-width="0.6" stroke-opacity="0.3"/>
<line x1="157.6" y1="104" x2="153.2" y2="132" stroke="#fff" stroke-width="0.6" stroke-opacity="0.3"/>
<line x1="159.5" y1="202.13" x2="159.5" y2="234.4" stroke="#000000" stroke-width="0.9" stroke-opacity="0.8"/>
<line x1="161.3" y1="202.15" x2="161.3" y2="234.4" stroke="#000000" stroke-width="0.8" stroke-opacity="0.45"/>
<line x1="163" y1="202.17" x2="163" y2="234.4" stroke="#000000" stroke-width="0.8" stroke-opacity="0.45"/>
<line x1="164.3" y1="202.19" x2="164.3" y2="234.4" stroke="#000000" stroke-width="0.8" stroke-opacity="0.7"/>
<line x1="160.4" y1="202.14" x2="160.4" y2="234.4" stroke="#000000" stroke-width="0.8" stroke-opacity="0.3"/>
<line x1="162.2" y1="202.16" x2="162.2" y2="234.4" stroke="#000000" stroke-width="0.8" stroke-opacity="0.3"/>
<line x1="136.5" y1="202.45" x2="136.5" y2="197" stroke="#000000" stroke-width="0.8"/>
<line x1="142.2" y1="202.26" x2="142.2" y2="185.5" stroke="#000000" stroke-width="0.8"/>
<line x1="144.7" y1="202.18" x2="144.7" y2="180.4" stroke="#000000" stroke-width="0.8"/>
<line x1="133.2" y1="202.54" x2="133.2" y2="199.6" stroke="#000000" stroke-width="0.8"/>
<line x1="139.3" y1="202.36" x2="139.3" y2="195.5" stroke="#000000" stroke-width="0.8"/>
</g>
<g id="trace_r">
<path d="M41.3,207.55 41.55,207.49 41.8,207.44 42.05,207.38 42.3,207.32 42.55,207.27 42.8,207.21 43.05,207.15 43.3,207.1 43.55,207.04 43.8,206.98 44.05,206.92 44.3,206.87 44.55,206.81 44.8,206.75 45.05,206.7 45.3,206.64 45.55,206.58 45.8,206.53 46.05,206.47 46.3,206.41 46.55,206.36 46.8,206.3 47.05,206.24 47.3,206.19 47.55,206.13 47.8,206.07 48.05,206.02 48.3,205.96 48.55,205.9 48.8,205.84 49.05,205.79 49.3,205.73 49.55,205.67 49.8,205.62 50.05,205.56 50.3,205.5 50.55,205.45 50.8,205.39 51.05,205.33 51.3,205.28 51.55,205.22 51.8,205.16 52.05,205.11 52.3,205.05 52.55,204.99 52.8,204.94 53.05,204.88 53.3,204.82 53.55,204.76 53.8,204.71 54.05,204.65 54.3,204.59 54.55,204.54 54.8,204.48 55.05,204.42 55.3,204.37 55.55,204.31 55.8,204.25 56.05,204.2 56.3,204.14 56.55,204.08 56.8,204.03 57.05,203.97 57.3,203.91 57.55,203.86 57.8,203.8 58.05,203.74 58.3,203.68 58.55,203.63 58.8,203.57 59.05,203.51 59.3,203.46 59.55,203.4 59.8,203.34 60.05,203.28 60.3,203.22 60.55,203.15 60.8,203.08 61.05,203.01 61.3,202.94 61.55,202.88 61.8,202.81 62.05,202.74 62.3,202.67 62.55,202.6 62.8,202.54 63.05,202.47 63.3,202.4 63.55,202.33 63.8,202.26 64.05,202.2 64.3,202.13 64.55,202.06 64.8,201.99 65.05,201.92 65.3,201.86 65.55,201.79 65.8,201.72 66.05,201.65 66.3,201.58 66.55,201.51 66.8,201.45 67.05,201.38 67.3,201.31 67.55,201.24 67.8,201.17 68.05,201.11 68.3,201.04 68.55,200.97 68.8,200.9 69.05,200.83 69.3,200.77 69.55,200.7 69.8,200.63 70.05,200.56 70.3,200.49 70.55,200.43 70.8,200.36 71.05,200.29 71.3,200.22 71.55,200.15 71.8,200.09 72.05,200.02 72.3,199.95 72.55,199.88 72.8,199.81 73.05,199.75 73.3,199.68 73.55,199.61 73.8,199.54 74.05,199.47 74.3,199.41 74.55,199.34 74.8,199.27 75.05,199.21 75.3,199.17 75.55,199.13 75.8,199.09 76.05,199.06 76.3,199.02 76.55,198.98 76.8,198.94 77.05,198.91 77.3,198.87 77.55,198.83 77.8,198.79 78.05,198.76 78.3,198.72 78.55,198.68 78.8,198.64 79.05,198.61 79.3,198.57 79.55,198.53 79.8,198.49 80.05,198.46 80.3,198.42 80.55,198.38 80.8,198.34 81.05,198.31 81.3,198.27 81.55,198.23 81.8,198.19 82.05,198.16 82.3,198.12 82.55,198.08 82.8,198.04 83.05,198.51 83.3,198.48 83.55,198.46 83.8,198.46 84.05,198.48 84.3,198.5 84.55,198.52 84.8,198.54 85.05,198.55 85.3,198.57 85.55,198.59 85.8,198.61 86.05,198.62 86.3,198.64 86.55,198.66 86.8,198.68 87.05,198.7 87.3,198.71 87.55,198.73 87.8,198.75 88.05,198.77 88.3,198.79 88.55,198.8 88.8,198.82 89.05,198.84 89.3,198.86 89.55,198.88 89.8,198.89 90.05,198.91 90.3,198.93 90.55,198.95 90.8,198.96 91.05,198.98 91.3,199 91.55,199.02 91.8,199.04 92.05,199.06 92.3,199.11 92.55,199.15 92.8,199.2 93.05,199.24 93.3,199.29 93.55,199.33 93.8,199.38 94.05,199.43 94.3,199.47 94.55,199.52 94.8,199.56 95.05,199.61 95.3,199.66 95.55,199.7 95.8,199.75 96.05,199.79 96.3,199.84 96.55,199.88 96.8,199.93 97.05,199.98 97.3,200.02 97.55,200.07 97.8,200.11 98.05,200.16 98.3,200.19 98.55,200.21 98.8,200.24 99.05,200.27 99.3,200.3 99.55,200.33 99.8,200.36 100.05,200.39 100.3,200.42 100.55,200.45 100.8,200.48 101.05,200.51 101.3,200.53 101.55,200.56 101.8,200.59 102.05,200.62 102.3,200.65 102.55,200.68 102.8,200.71 103.05,200.74 103.3,200.77 103.55,200.8 103.8,200.83 104.05,200.86 104.3,200.89 104.55,200.91 104.8,200.94 105.05,200.97 105.3,201 105.55,201.03 105.8,201.06 106.05,201.09 106.3,201.12 106.55,201.15 106.8,201.18 107.05,201.21 107.3,201.24 107.55,201.26 107.8,201.29 108.05,201.32 108.3,201.35 108.55,201.38 108.8,201.41 109.05,201.44 109.3,201.47 109.55,201.5 109.8,201.53 110.05,201.55 110.3,201.57 110.55,201.59 110.8,201.61 111.05,201.62 111.3,201.64 111.55,201.66 111.8,201.68 112.05,201.69 112.3,201.71 112.55,201.73 112.8,201.75 113.05,201.76 113.3,201.78 113.55,201.8 113.8,201.82 114.05,201.83 114.3,201.85 114.55,201.87 114.8,201.89 115.05,201.9 115.3,201.92 115.55,201.94 115.8,201.96 116.05,201.97 116.3,201.99 116.55,202.01 116.8,202.03 117.05,202.04 117.3,202.06 117.55,202.08 117.8,202.1 118.05,202.11 118.3,202.13 118.55,202.15 118.8,202.17 119.05,202.18 119.3,202.2 119.55,202.22 119.8,202.24 120.05,202.25 120.3,202.24 120.55,202.24 120.8,202.23 121.05,202.23 121.3,202.22 121.55,202.22 121.8,202.21 122.05,202.21 122.3,202.2 122.55,202.2 122.8,202.19 123.05,202.19 123.3,202.18 123.55,202.18 123.8,202.17 124.05,202.17 124.3,202.16 124.55,202.16 124.8,202.15 125.05,202.15 125.3,202.14 125.55,202.14 125.8,202.13 126.05,202.13 126.3,202.12 126.55,202.12 126.8,202.11 127.05,202.11 127.3,202.1 127.55,202.1 127.8,202.09 128.05,202.09 128.3,202.08 128.55,202.08 128.8,202.07 129.05,202.07 129.3,202.06 129.55,202.06 129.8,202.05 130.05,202.05 130.3,202.04 130.55,202.04 130.8,202.03 131.05,202.03 131.3,202.02 131.55,202.02 131.8,202.01 132.05,202.01 132.3,202 132.55,202 132.8,201.99 133.05,201.99 133.3,201.98 133.55,201.98 133.8,201.97 134.05,201.97 134.3,201.96 134.55,201.96 134.8,201.95 135.05,201.95 135.3,201.94 135.55,201.93 135.8,201.92 136.05,201.91 136.3,201.91 136.55,201.9 136.8,201.89 137.05,201.88 137.3,201.87 137.55,201.86 137.8,201.86 138.05,201.85 138.3,201.84 138.55,201.83 138.8,201.82 139.05,201.81 139.3,201.81 139.55,201.8 139.8,201.79 140.05,201.78 140.3,201.77 140.55,201.76 140.8,201.76 141.05,201.75 141.3,201.74 141.55,201.73 141.8,201.72 142.05,201.71 142.3,201.71 142.55,201.7 142.8,201.69 143.05,201.68 143.3,201.67 143.55,201.66 143.8,201.66 144.05,201.65 144.3,201.64 144.55,201.63 144.8,201.62 145.05,201.61 145.3,201.61 145.55,201.6 145.8,201.59 146.05,201.58 146.3,201.57 146.55,201.56 146.8,201.56 147.05,201.55 147.3,201.54 147.55,201.53 147.8,201.52 148.05,201.51 148.3,201.51 148.55,201.5 148.8,201.49 149.05,201.48 149.3,201.47 149.55,201.46 149.8,201.46 150.05,201.45 150.3,201.45 150.55,201.46 150.8,201.46 151.05,201.46 151.3,201.47 151.55,201.47 151.8,201.47 152.05,201.48 152.3,201.48 152.55,201.48 152.8,201.49 153.05,201.49 153.3,201.49 153.55,201.5 153.8,201.5 154.05,201.5 154.3,201.51 154.55,200.89 154.8,200.81 155.05,200.73 155.3,201.52 155.55,201.52 155.8,201.53 156.05,201.23 156.3,201.17 156.55,201.11 156.8,201.24 157.05,201.19 157.3,201.14 157.55,199.68 157.8,199.56 158.05,199.45 158.3,200.99 158.55,200.94 158.8,200.89 159.05,199.29 159.3,199.18 159.55,199.08 159.8,201.18 160.05,201.15 160.3,201.11 160.55,197.13 160.8,196.97 161.05,196.76 161.3,197.22 161.55,196.83 161.8,196.43 162.05,196.83 162.3,196.48 162.55,196.14 162.8,197.51 163.05,197.2 163.3,196.66 163.55,200.54 163.8,200.38 164.05,200.23 164.3,187.18 164.55,186.04 164.8,179.69 165.05,182.72 165.3,181.18 165.55,179.65 165.8,172.03 166.05,169.97 166.3,167.91 166.55,169.25 166.8,167.39 167.05,165.52 167.3,162.12 167.55,157.43 167.8,154.57 168.05,151.71 168.3,148.86 168.55,146 168.8,143.14 169.05,139.9 169.3,136.4 169.55,133.12 169.8,130 170.05,126.87 170.3,22 170.55,22 170.8,22 171.05,22 171.3,22 171.55,22 171.8,22 172.05,22 172.3,22 172.55,22 172.8,22 173.05,22 173.3,22 173.55,22 173.8,22 174.05,22 174.3,22 174.55,22 174.8,22 175.05,25.7 175.3,25.7 175.55,25.7 175.8,25.7 176.05,25.7 176.3,25.7 176.55,25.7 176.8,25.7 177.05,25.7 177.3,25.7 177.55,30 177.8,30 178.05,30 178.3,30 178.55,30 178.8,30 179.05,30 179.3,37 179.55,37 179.8,37 180.05,37 180.3,37 180.55,37 180.8,37 181.05,54 181.3,54 181.55,54 181.8,54 182.05,54 182.3,54 182.55,63 182.8,96.67 183.05,110.6 183.3,113.6 183.55,116.6 183.8,119.6 184.05,122.6 184.3,125.6 184.55,128.31 184.8,129.86 185.05,131.4 185.3,132.95 185.55,134.5 185.8,136.05 186.05,137.6 186.3,139.14 186.55,140.69 186.8,142.47 187.05,144.32 187.3,146.16 187.55,148 187.8,149.84 188.05,151.68 188.3,153.53 188.55,157.5 188.8,171.11 189.05,170.96 189.3,171.58 189.55,172.2 189.8,190.61 190.05,190.83 190.3,190.91 190.55,176.9 190.8,177.06 191.05,177.23 191.3,179.33 191.55,179.48 191.8,179.63 192.05,178.38 192.3,178.63 192.55,178.87 192.8,187.6 193.05,187.75 193.3,187.91 193.55,179.42 193.8,179.67 194.05,179.91 194.3,186.66 194.55,186.84 194.8,187.02 195.05,182.35 195.3,182.58 195.55,182.82 195.8,178.87 196.05,179.17 196.3,179.55 196.55,183.72 196.8,184.03 197.05,184.35 197.3,191.4 197.55,191.6 197.8,191.81 198.05,185.92 198.3,186.23 198.55,186.55 198.8,185.22 199.05,185.56 199.3,185.9 199.55,184.56 199.8,185.12 200.05,185.67 200.3,191.59 200.55,191.97 200.8,192.35 201.05,189.41 201.3,189.91 201.55,190.41 201.8,190.47 202.05,190.97 202.3,191.36 202.55,192 202.8,192.38 203.05,192.76 203.3,193.41 203.55,193.78 203.8,194.15 204.05,194.13 204.3,194.52 204.55,194.9 204.8,195.14 205.05,195.5 205.3,195.74 205.55,196.61 205.8,196.82 206.05,197.04 206.3,196.31 206.55,196.56 206.8,196.81 207.05,197.26 207.3,197.5 207.55,197.74 207.8,198.49 208.05,198.71 208.3,198.93 208.55,200.99 208.8,201.12 209.05,201.24 209.3,199.79 209.55,200.01 209.8,200.23 210.05,200.7 210.3,200.81 210.55,200.91 210.8,201.97 211.05,202.04 211.3,202.1 211.55,201.91 211.8,201.99 212.05,202.06 212.3,201.92 212.55,202.01 212.8,202.1 213.05,202.02 213.3,202.12 213.55,202.22 213.8,202.28 214.05,202.38 214.3,202.48 214.55,202.31 214.8,202.43 215.05,202.53 215.3,202.56 215.55,202.6 215.8,202.65 216.05,202.68 216.3,202.72 216.55,202.76 216.8,202.8 217.05,202.85 217.3,202.89 217.55,202.95 217.8,202.96 218.05,202.97 218.3,202.98 218.55,202.99 218.8,203 219.05,203.01 219.3,203.02 219.55,203.03 219.8,203.04 220.05,203.05 220.3,203.06 220.55,203.07 220.8,203.08 221.05,203.09 221.3,203.1 221.55,203.11 221.8,203.12 222.05,203.13 222.3,203.14 222.55,203.15 222.8,203.16 223.05,203.17 223.3,203.18 223.55,203.19 223.8,203.2 224.05,203.21 224.3,203.22 224.55,203.23 224.8,203.24 225.05,202.75 225.3,202.78 225.55,202.8 225.8,202.82 226.05,202.85 226.3,202.87 226.55,202.89 226.8,202.91 227.05,202.94 227.3,202.96 227.55,202.98 227.8,203.01 228.05,203.03 228.3,203.05 228.55,203.07 228.8,203.1 229.05,203.12 229.3,203.14 229.55,203.17 229.8,203.19 230.05,203.21 230.3,203.23 230.55,203.26 230.8,203.28 231.05,203.3 231.3,203.33 231.55,203.35 231.8,203.37 232.05,203.4 232.3,203.43 232.55,203.44 232.8,203.47 233.05,203.49 233.3,203.55 233.55,203.58 233.8,203.61 234.05,203.58 234.3,203.61 234.55,203.63 234.8,203.75 235.05,203.78 235.3,203.82 235.55,203.85 235.8,203.89 236.05,203.92 236.3,203.88 236.55,203.91 236.8,203.94 237.05,204.08 237.3,204.12 237.55,204.15 237.8,204.04 238.05,204.07 238.3,204.1 238.55,204.15 238.8,204.18 239.05,204.21 239.3,204.17 239.55,204.2 239.8,204.22 240.05,204.44 240.3,204.49 240.55,204.55 240.8,204.5 241.05,204.56 241.3,204.61 241.55,204.63 241.8,204.69 242.05,204.74 242.3,204.76 242.55,204.81 242.8,204.86 243.05,205.08 243.3,205.14 243.55,205.19 243.8,204.87 244.05,204.92 244.3,204.97 244.55,205.35 244.8,205.4 245.05,205.45 245.3,205.16 245.55,205.21 245.8,205.26 246.05,205.4 246.3,205.45 246.55,205.5 246.8,205.42 247.05,205.47 247.3,205.52 247.55,205.9 247.8,205.95 248.05,206 248.3,206.34 248.55,206.39 248.8,206.43 249.05,205.97 249.3,206.02 249.55,206.06 249.8,206.04 250.05,206.09 250.3,206.12 250.55,206.45 250.8,206.49 251.05,206.52 251.3,206.21 251.55,206.24 251.8,206.28 252.05,206.55 252.3,206.58 252.55,206.62 252.8,206.72 253.05,206.76 253.3,206.8 253.55,206.58 253.8,206.61 254.05,206.65 254.3,207.25 254.55,207.29 254.8,207.33 255.05,207.01 255.3,207.05 255.55,207.09 255.8,207.27 256.05,207.31 256.3,207.35 256.55,207.06 256.8,207.1 257.05,207.14 257.3,207.77 257.55,207.81 257.8,207.85 258.05,207.34 258.3,207.38 258.55,207.42 258.8,207.66 259.05,207.7 259.3,207.74 259.55,207.51 259.8,207.55 260.05,207.59 260.3,207.68 260.55,207.72 260.8,207.76 261.05,207.78 261.3,207.82 261.55,207.86 261.8,208.07 262.05,208.11 262.3,208.15 262.55,207.98 262.8,208.02 263.05,208.06 263.3,208.37 263.55,208.41 263.8,208.45 264.05,208.55 264.3,208.57 264.55,208.59 264.8,208.35 265.05,208.37 265.3,208.39 265.55,208.82 265.8,208.84 266.05,208.86 266.3,208.4 266.55,208.42 266.8,208.44 267.05,208.81 267.3,208.83 267.55,208.85 267.8,209.04 268.05,209.06 268.3,209.08 268.55,208.96 268.8,208.98 269.05,209.01 269.3,208.6 269.55,208.62 269.8,208.64 270.05,208.71 270.3,208.73 270.55,208.75 270.8,208.75 271.05,208.78 271.3,208.8 271.55,208.88 271.8,208.9 272.05,208.92 272.3,209.22 272.55,209.24 272.8,209.26 273.05,209.58 273.3,209.6 273.55,209.63 273.8,209.23 274.05,209.25 274.3,209.28 274.55,209.59 274.8,209.61 275.05,209.63 275.3,209.29 275.55,209.31 275.8,209.33 276.05,209.85 276.3,209.87 276.55,209.89 276.8,209.5 277.05,209.52 277.3,209.54 277.55,209.43 277.8,209.45 278.05,209.47 278.3,209.49 278.55,209.51 278.8,209.53 279.05,209.5 279.3,209.52 279.55,209.54 279.8,209.54 280.05,209.56 280.3,209.58 280.55,210.19 280.8,210.21 281.05,210.23 281.3,210.11 281.55,210.13 281.8,210.16 282.05,209.77 282.3,209.79 282.55,209.81 282.8,210.15 283.05,210.17 283.3,210.18 283.55,210.1 283.8,210.1 284.05,210.11 284.3,209.85 284.55,209.86 284.8,209.87 285.05,210.52 285.3,210.53 285.55,210.54 285.8,210.02 286.05,210.03 286.3,210.04 286.55,210.28 286.8,210.29 287.05,210.3 287.3,210.16 287.55,210.17 287.8,210.18 288.05,210.28 288.3,210.29 288.55,210.3 288.8,210.66 289.05,210.67 289.3,210.68 289.55,210.53 289.8,210.54 290.05,210.55 290.3,210.19 290.55,210.2 290.8,210.21 291.05,210.54 291.3,210.55 291.55,210.56 291.8,210.4 292.05,210.41 292.3,210.42 292.55,210.27 292.8,210.28 293.05,210.29 293.3,210.52 293.55,210.53 293.8,210.54 294.05,210.32 294.3,210.33 294.55,210.34 294.8,210.76 295.05,210.76 295.3,210.77 295.55,210.42 295.8,210.43 296.05,210.44 296.3,210.31 296.55,210.32 296.8,210.33 297.05,210.87 297.3,210.88 297.55,210.89 297.8,210.42 298.05,210.43 298.3,210.44 298.55,210.82 298.8,210.83 299.05,210.84 299.3,210.96 299.55,210.97 299.8,210.98 300.05,210.89 300.3,210.9 300.55,210.91 300.8,211.07 301.05,211.08 301.3,211.09 301.55,210.63 301.8,210.64 302.05,210.64 302.3,210.73 302.55,210.74 302.8,210.74 303.05,210.94 303.3,210.95 303.55,210.96 303.8,210.6 304.05,210.61 304.3,210.62 304.55,211.24 304.8,211.25 305.05,211.26 305.3,211.04 305.55,211.05 305.8,211.06 306.05,211.08 306.3,211.09 306.55,211.1 306.8,211.04 307.05,211.05 307.3,211.06 307.55,211.01 307.8,211.02 308.05,211.03 308.3,210.82 308.55,210.83 308.8,210.84 309.05,210.79 309.3,210.8 309.55,210.81 309.8,210.92 310.05,210.93 310.3,210.94 310.55,210.79 310.8,210.8 311.05,210.81 311.3,211.23 311.55,211.24 311.8,211.25 312.05,210.95 312.3,210.96 312.55,210.97 312.8,211.5 313.05,211.51 313.3,211.52 313.55,210.96 313.8,210.97 314.05,210.98 314.3,211.13 314.55,211.14 314.8,211.15 315.05,211.54 315.3,211.55 315.55,211.56 315.8,211.4 316.05,211.41 316.3,211.42 316.55,211.28 316.8,211.29 317.05,211.3 317.3,211.53 317.55,211.54 317.8,211.55 318.05,211.33 318.3,211.34 318.55,211.35 318.8,211.19 319.05,211.19 319.3,211.2 319.55,211.79 319.8,211.8 320.05,211.81 320.3,211.74 320.55,211.75 320.8,211.76 321.05,211.68 321.3,211.69 321.55,211.69 321.8,211.38 322.05,211.39 322.3,211.4 322.55,211.57 322.8,211.58 323.05,211.59 323.3,211.3 323.55,211.31 323.8,211.32 324.05,211.3 324.3,211.31 324.55,211.32 324.8,211.96 325.05,211.97 325.3,211.98 325.55,211.62 325.8,211.63 326.05,211.64 326.3,211.51 326.55,211.52 326.8,211.53 327.05,211.93 327.3,211.94 327.55,211.95 327.8,211.78 328.05,211.79 328.3,211.8 328.55,211.9 328.8,211.91 329.05,211.92 329.3,211.54 329.55,211.55 329.8,211.56 330.05,211.8 330.3,211.81 330.55,211.82 330.8,211.81 331.05,211.82 331.3,211.82 331.55,211.75 L331.55,214.63 331.3,214.33 331.05,214.32 330.8,214.31 330.55,214.56 330.3,214.56 330.05,214.55 329.8,213.77 329.55,213.76 329.3,213.75 329.05,214.01 328.8,214 328.55,213.99 328.3,214.49 328.05,214.48 327.8,214.47 327.55,214.06 327.3,214.05 327.05,214.04 326.8,213.75 326.55,213.74 326.3,213.73 326.05,213.85 325.8,213.84 325.55,213.83 325.3,214.12 325.05,214.11 324.8,214.1 324.55,214.27 324.3,214.26 324.05,214.26 323.8,214.3 323.55,214.29 323.3,214.28 323.05,214.05 322.8,214.05 322.55,214.04 322.3,213.83 322.05,213.82 321.8,213.81 321.55,214.15 321.3,214.14 321.05,214.13 320.8,213.88 320.55,213.87 320.3,213.86 320.05,213.93 319.8,213.92 319.55,213.91 319.3,214.14 319.05,214.13 318.8,214.12 318.55,213.68 318.3,213.67 318.05,213.66 317.8,213.83 317.55,213.82 317.3,213.81 317.05,213.77 316.8,213.77 316.55,213.76 316.3,213.63 316.05,213.62 315.8,213.61 315.55,213.56 315.3,213.55 315.05,213.54 314.8,213.98 314.55,213.97 314.3,213.96 314.05,213.36 313.8,213.35 313.55,213.34 313.3,213.81 313.05,213.8 312.8,213.79 312.55,213.87 312.3,213.86 312.05,213.85 311.8,213.74 311.55,213.73 311.3,213.72 311.05,213.2 310.8,213.19 310.55,213.19 310.3,213.52 310.05,213.51 309.8,213.5 309.55,213.52 309.3,213.52 309.05,213.51 308.8,213.6 308.55,213.59 308.3,213.58 308.05,213.14 307.8,213.13 307.55,213.12 307.3,213.52 307.05,213.51 306.8,213.5 306.55,213.53 306.3,213.52 306.05,213.51 305.8,213.23 305.55,213.22 305.3,213.21 305.05,213.07 304.8,213.06 304.55,213.05 304.3,213.57 304.05,213.56 303.8,213.55 303.55,213.01 303.3,213 303.05,212.99 302.8,213.15 302.55,213.14 302.3,213.13 302.05,212.74 301.8,212.73 301.55,212.72 301.3,212.77 301.05,212.76 300.8,212.75 300.55,212.78 300.3,212.77 300.05,212.76 299.8,212.78 299.55,212.77 299.3,212.76 299.05,212.99 298.8,212.99 298.55,212.98 298.3,213.32 298.05,213.31 297.8,213.3 297.55,212.82 297.3,212.81 297.05,212.8 296.8,212.56 296.55,212.55 296.3,212.54 296.05,213.12 295.8,213.11 295.55,213.1 295.3,213.14 295.05,213.13 294.8,213.12 294.55,212.87 294.3,212.86 294.05,212.85 293.8,212.58 293.55,212.57 293.3,212.56 293.05,212.38 292.8,212.37 292.55,212.36 292.3,212.59 292.05,212.58 291.8,212.58 291.55,212.48 291.3,212.47 291.05,212.46 290.8,212.92 290.55,212.92 290.3,212.91 290.05,212.68 289.8,212.67 289.55,212.66 289.3,212.83 289.05,212.82 288.8,212.81 288.55,212.84 288.3,212.83 288.05,212.82 287.8,212.67 287.55,212.66 287.3,212.65 287.05,212.28 286.8,212.27 286.55,212.26 286.3,212.53 286.05,212.52 285.8,212.52 285.55,212.59 285.3,212.58 285.05,212.57 284.8,212.06 284.55,212.05 284.3,212.04 284.05,212.08 283.8,212.08 283.55,212.07 283.3,212.4 283.05,212.39 282.8,212.37 282.55,212.57 282.3,212.55 282.05,212.52 281.8,212.26 281.55,212.24 281.3,212.22 281.05,211.82 280.8,211.79 280.55,211.77 280.3,211.86 280.05,211.84 279.8,211.82 279.55,211.78 279.3,211.76 279.05,211.73 278.8,212.12 278.55,212.1 278.3,212.08 278.05,211.61 277.8,211.59 277.55,211.57 277.3,212.22 277.05,212.2 276.8,212.17 276.55,212.24 276.3,212.22 276.05,212.2 275.8,212.13 275.55,212.11 275.3,212.08 275.05,211.53 274.8,211.51 274.55,211.49 274.3,211.29 274.05,211.27 273.8,211.25 273.55,211.8 273.3,211.78 273.05,211.76 272.8,211.82 272.55,211.8 272.3,211.78 272.05,211.84 271.8,211.82 271.55,211.8 271.3,210.99 271.05,210.97 270.8,210.95 270.55,211.25 270.3,211.23 270.05,211.21 269.8,211.32 269.55,211.3 269.3,211.28 269.05,210.84 268.8,210.82 268.55,210.8 268.3,211.35 268.05,211.33 267.8,211.31 267.55,211.39 267.3,211.37 267.05,211.35 266.8,211.4 266.55,211.38 266.3,211.36 266.05,210.86 265.8,210.84 265.55,210.82 265.3,210.81 265.05,210.79 264.8,210.77 264.55,210.79 264.3,210.77 264.05,210.75 263.8,210.66 263.55,210.62 263.3,210.59 263.05,210.46 262.8,210.42 262.55,210.38 262.3,210.4 262.05,210.36 261.8,210.32 261.55,210.34 261.3,210.3 261.05,210.26 260.8,210.71 260.55,210.67 260.3,210.63 260.05,209.84 259.8,209.8 259.55,209.76 259.3,209.66 259.05,209.62 258.8,209.58 258.55,210.26 258.3,210.22 258.05,210.18 257.8,210.07 257.55,210.04 257.3,210 257.05,209.29 256.8,209.26 256.55,209.22 256.3,209.52 256.05,209.48 255.8,209.45 255.55,209.65 255.3,209.61 255.05,209.57 254.8,209 254.55,208.96 254.3,208.92 254.05,209.02 253.8,208.98 253.55,208.94 253.3,209.11 253.05,209.08 252.8,209.04 252.55,208.71 252.3,208.67 252.05,208.63 251.8,208.53 251.55,208.49 251.3,208.45 251.05,209.1 250.8,209.06 250.55,209.02 250.3,208.67 250.05,208.63 249.8,208.57 249.55,208.36 249.3,208.3 249.05,208.24 248.8,208.02 248.55,207.96 248.3,207.9 248.05,207.8 247.8,207.74 247.55,207.68 247.3,207.67 247.05,207.61 246.8,207.56 246.55,207.83 246.3,207.77 246.05,207.72 245.8,207.65 245.55,207.59 245.3,207.53 245.05,207.63 244.8,207.57 244.55,207.51 244.3,207.39 244.05,207.33 243.8,207.28 243.55,206.89 243.3,206.84 243.05,206.79 242.8,206.9 242.55,206.84 242.3,206.79 242.05,206.81 241.8,206.75 241.55,206.69 241.3,206.5 241.05,206.45 240.8,206.39 240.55,206.23 240.3,206.18 240.05,206.13 239.8,206.44 239.55,206.41 239.3,206.37 239.05,206.29 238.8,206.26 238.55,206.23 238.3,206.17 238.05,206.14 237.8,206.11 237.55,206.03 237.3,206 237.05,205.97 236.8,205.94 236.55,205.91 236.3,205.87 236.05,205.74 235.8,205.71 235.55,205.69 235.3,205.79 235.05,205.75 234.8,205.72 234.55,205.68 234.3,205.65 234.05,205.61 233.8,205.57 233.55,205.54 233.3,205.51 233.05,205.48 232.8,205.44 232.55,205.41 232.3,205.37 232.05,205.34 231.8,205.31 231.55,205.27 231.3,205.23 231.05,205.19 230.8,205.15 230.55,205.11 230.3,205.07 230.05,205.03 229.8,205 229.55,204.96 229.3,204.92 229.05,204.88 228.8,204.84 228.55,204.8 228.3,204.76 228.05,204.72 227.8,204.68 227.55,204.65 227.3,204.61 227.05,204.57 226.8,204.53 226.55,204.49 226.3,204.45 226.05,204.41 225.8,204.37 225.55,204.34 225.3,204.3 225.05,204.26 224.8,204.74 224.55,204.73 224.3,204.72 224.05,204.71 223.8,204.7 223.55,204.69 223.3,204.68 223.05,204.67 222.8,204.66 222.55,204.65 222.3,204.64 222.05,204.63 221.8,204.62 221.55,204.61 221.3,204.6 221.05,204.59 220.8,204.58 220.55,204.57 220.3,204.56 220.05,204.55 219.8,204.54 219.55,204.53 219.3,204.52 219.05,204.51 218.8,204.5 218.55,204.49 218.3,204.48 218.05,204.47 217.8,204.46 217.55,204.45 217.3,204.44 217.05,204.43 216.8,204.42 216.55,204.41 216.3,204.4 216.05,204.39 215.8,204.38 215.55,204.37 215.3,204.36 215.05,204.35 214.8,204.34 214.55,204.33 214.3,204.32 214.05,204.31 213.8,204.3 213.55,204.29 213.3,204.28 213.05,204.27 212.8,204.26 212.55,204.25 212.3,204.24 212.05,204.23 211.8,204.22 211.55,204.21 211.3,204.2 211.05,204.19 210.8,204.18 210.55,204.17 210.3,204.16 210.05,204.15 209.8,204.14 209.55,204.13 209.3,204.12 209.05,204.11 208.8,204.1 208.55,204.09 208.3,204.08 208.05,204.07 207.8,204.06 207.55,204.05 207.3,204.04 207.05,204.03 206.8,204.02 206.55,204.01 206.3,204 206.05,203.99 205.8,203.98 205.55,203.97 205.3,203.96 205.05,203.95 204.8,203.94 204.55,203.93 204.3,203.92 204.05,203.91 203.8,203.9 203.55,203.89 203.3,203.88 203.05,203.87 202.8,203.86 202.55,203.85 202.3,203.84 202.05,203.83 201.8,203.82 201.55,203.81 201.3,203.8 201.05,203.79 200.8,203.78 200.55,203.77 200.3,203.76 200.05,203.75 199.8,203.74 199.55,203.73 199.3,203.72 199.05,203.71 198.8,203.7 198.55,203.69 198.3,203.68 198.05,203.67 197.8,203.66 197.55,203.65 197.3,203.64 197.05,203.63 196.8,203.62 196.55,203.61 196.3,203.6 196.05,203.59 195.8,203.58 195.55,203.57 195.3,203.56 195.05,203.55 194.8,203.55 194.55,203.54 194.3,203.54 194.05,203.54 193.8,203.53 193.55,203.53 193.3,203.53 193.05,203.52 192.8,203.52 192.55,203.52 192.3,203.51 192.05,203.51 191.8,203.51 191.55,203.5 191.3,203.5 191.05,203.5 190.8,203.49 190.55,203.49 190.3,203.49 190.05,203.48 189.8,203.48 189.55,203.48 189.3,203.47 189.05,203.47 188.8,203.47 188.55,203.46 188.3,203.46 188.05,203.46 187.8,203.45 187.55,203.45 187.3,203.45 187.05,203.44 186.8,203.44 186.55,203.44 186.3,203.43 186.05,203.43 185.8,203.43 185.55,203.42 185.3,203.42 185.05,203.42 184.8,203.41 184.55,203.41 184.3,203.41 184.05,203.4 183.8,203.4 183.55,203.4 183.3,203.39 183.05,203.39 182.8,203.39 182.55,203.38 182.3,203.38 182.05,203.38 181.8,203.37 181.55,203.37 181.3,203.37 181.05,203.36 180.8,203.36 180.55,203.36 180.3,203.35 180.05,203.35 179.8,139.88 179.55,138.11 179.3,136.35 179.05,134.58 178.8,132.82 178.55,131.05 178.3,129.29 178.05,127.52 177.8,125.75 177.55,126.36 177.3,127.56 177.05,128.76 176.8,129.96 176.55,131.16 176.3,132.36 176.05,133.56 175.8,134.76 175.55,135.96 175.3,137.16 175.05,138.36 174.8,139.56 174.55,140.76 174.3,142.4 174.05,144.15 173.8,145.9 173.55,147.65 173.3,149.4 173.05,151.15 172.8,152.9 172.55,154.65 172.3,157.62 172.05,160.88 171.8,164.15 171.55,167.42 171.3,170.69 171.05,174 170.8,177.33 170.55,183 170.3,197.5 170.05,203.22 169.8,203.21 169.55,203.21 169.3,203.21 169.05,203.2 168.8,203.2 168.55,203.2 168.3,203.19 168.05,203.19 167.8,203.19 167.55,203.18 167.3,203.18 167.05,203.18 166.8,203.17 166.55,203.17 166.3,203.17 166.05,203.16 165.8,203.16 165.55,203.16 165.3,203.15 165.05,203.15 164.8,203.15 164.55,203.14 164.3,203.14 164.05,203.14 163.8,203.13 163.55,203.13 163.3,203.13 163.05,203.12 162.8,203.12 162.55,203.12 162.3,203.11 162.05,203.11 161.8,203.11 161.55,203.1 161.3,203.1 161.05,203.1 160.8,203.09 160.55,203.09 160.3,203.09 160.05,203.08 159.8,203.08 159.55,203.08 159.3,203.07 159.05,203.07 158.8,203.07 158.55,203.06 158.3,203.06 158.05,203.06 157.8,203.05 157.55,203.05 157.3,203.05 157.05,203.04 156.8,203.04 156.55,203.04 156.3,203.03 156.05,203.03 155.8,203.03 155.55,203.02 155.3,203.02 155.05,203.02 154.8,203.01 154.55,203.01 154.3,203.01 154.05,203 153.8,203 153.55,203 153.3,202.99 153.05,202.99 152.8,202.99 152.55,202.98 152.3,202.98 152.05,202.98 151.8,202.97 151.55,202.97 151.3,202.97 151.05,202.96 150.8,202.96 150.55,202.96 150.3,202.95 150.05,202.95 149.8,202.96 149.55,202.96 149.3,202.97 149.05,202.98 148.8,202.99 148.55,203 148.3,203.01 148.05,203.01 147.8,203.02 147.55,203.03 147.3,203.04 147.05,203.05 146.8,203.06 146.55,203.06 146.3,203.07 146.05,203.08 145.8,203.09 145.55,203.1 145.3,203.11 145.05,203.11 144.8,203.12 144.55,203.13 144.3,203.14 144.05,203.15 143.8,203.16 143.55,203.16 143.3,203.17 143.05,203.18 142.8,203.19 142.55,203.2 142.3,203.21 142.05,203.21 141.8,203.22 141.55,203.23 141.3,203.24 141.05,203.25 140.8,203.26 140.55,203.26 140.3,203.27 140.05,203.28 139.8,203.29 139.55,203.3 139.3,203.31 139.05,203.31 138.8,203.32 138.55,203.33 138.3,203.34 138.05,203.35 137.8,203.36 137.55,203.36 137.3,203.37 137.05,203.38 136.8,203.39 136.55,203.4 136.3,203.41 136.05,203.41 135.8,203.42 135.55,203.43 135.3,203.44 135.05,203.45 134.8,203.45 134.55,203.46 134.3,203.46 134.05,203.47 133.8,203.47 133.55,203.48 133.3,203.48 133.05,203.49 132.8,203.49 132.55,203.5 132.3,203.5 132.05,203.51 131.8,203.51 131.55,203.52 131.3,203.52 131.05,203.53 130.8,203.53 130.55,203.54 130.3,203.54 130.05,203.55 129.8,203.55 129.55,203.56 129.3,203.56 129.05,203.57 128.8,203.57 128.55,203.58 128.3,203.58 128.05,203.59 127.8,203.59 127.55,203.6 127.3,203.6 127.05,203.61 126.8,203.61 126.55,203.62 126.3,203.62 126.05,203.63 125.8,203.63 125.55,203.64 125.3,203.64 125.05,203.65 124.8,203.65 124.55,203.66 124.3,203.66 124.05,203.67 123.8,203.67 123.55,203.68 123.3,203.68 123.05,203.69 122.8,203.69 122.55,203.7 122.3,203.7 122.05,203.71 121.8,203.71 121.55,203.72 121.3,203.72 121.05,203.73 120.8,203.73 120.55,203.74 120.3,203.74 120.05,203.75 119.8,203.74 119.55,203.72 119.3,203.7 119.05,203.68 118.8,203.67 118.55,203.65 118.3,203.63 118.05,203.61 117.8,203.6 117.55,203.58 117.3,203.56 117.05,203.54 116.8,203.53 116.55,203.51 116.3,203.49 116.05,203.47 115.8,203.46 115.55,203.44 115.3,203.42 115.05,203.4 114.8,203.39 114.55,203.37 114.3,203.35 114.05,203.33 113.8,203.32 113.55,203.3 113.3,203.28 113.05,203.26 112.8,203.25 112.55,203.23 112.3,203.21 112.05,203.19 111.8,203.18 111.55,203.16 111.3,203.14 111.05,203.12 110.8,203.11 110.55,203.09 110.3,203.07 110.05,203.05 109.8,203.03 109.55,203 109.3,202.97 109.05,202.94 108.8,202.91 108.55,202.88 108.3,202.85 108.05,202.82 107.8,202.79 107.55,202.76 107.3,202.74 107.05,202.71 106.8,202.68 106.55,202.65 106.3,202.62 106.05,202.59 105.8,202.56 105.55,202.53 105.3,202.5 105.05,202.47 104.8,202.44 104.55,202.41 104.3,202.39 104.05,202.36 103.8,202.33 103.55,202.3 103.3,202.27 103.05,202.24 102.8,202.21 102.55,202.18 102.3,202.15 102.05,202.12 101.8,202.09 101.55,202.06 101.3,202.03 101.05,202.01 100.8,201.98 100.55,201.95 100.3,201.92 100.05,201.89 99.8,201.86 99.55,201.83 99.3,201.8 99.05,201.77 98.8,201.74 98.55,201.71 98.3,201.69 98.05,201.66 97.8,201.61 97.55,201.57 97.3,201.52 97.05,201.48 96.8,201.43 96.55,201.38 96.3,201.34 96.05,201.29 95.8,201.25 95.55,201.2 95.3,201.16 95.05,201.11 94.8,201.06 94.55,201.02 94.3,200.97 94.05,200.93 93.8,200.88 93.55,200.83 93.3,200.79 93.05,200.74 92.8,200.7 92.55,200.65 92.3,200.61 92.05,200.56 91.8,200.54 91.55,200.52 91.3,200.5 91.05,200.48 90.8,200.46 90.55,200.45 90.3,200.43 90.05,200.41 89.8,200.39 89.55,200.38 89.3,200.36 89.05,200.34 88.8,200.32 88.55,200.3 88.3,200.29 88.05,200.27 87.8,200.25 87.55,200.23 87.3,200.21 87.05,200.2 86.8,200.18 86.55,200.16 86.3,200.14 86.05,200.12 85.8,200.11 85.55,200.09 85.3,200.07 85.05,200.05 84.8,200.04 84.55,200.02 84.3,200 84.05,199.98 83.8,199.96 83.55,199.96 83.3,199.98 83.05,200.01 82.8,199.54 82.55,199.58 82.3,199.62 82.05,199.66 81.8,199.69 81.55,199.73 81.3,199.77 81.05,199.81 80.8,199.84 80.55,199.88 80.3,199.92 80.05,199.96 79.8,199.99 79.55,200.03 79.3,200.07 79.05,200.11 78.8,200.14 78.55,200.18 78.3,200.22 78.05,200.26 77.8,200.29 77.55,200.33 77.3,200.37 77.05,200.41 76.8,200.44 76.55,200.48 76.3,200.52 76.05,200.56 75.8,200.59 75.55,200.63 75.3,200.67 75.05,200.71 74.8,200.77 74.55,200.84 74.3,200.91 74.05,200.97 73.8,201.04 73.55,201.11 73.3,201.18 73.05,201.25 72.8,201.31 72.55,201.38 72.3,201.45 72.05,201.52 71.8,201.59 71.55,201.65 71.3,201.72 71.05,201.79 70.8,201.86 70.55,201.93 70.3,201.99 70.05,202.06 69.8,202.13 69.55,202.2 69.3,202.27 69.05,202.33 68.8,202.4 68.55,202.47 68.3,202.54 68.05,202.61 67.8,202.67 67.55,202.74 67.3,202.81 67.05,202.88 66.8,202.95 66.55,203.01 66.3,203.08 66.05,203.15 65.8,203.22 65.55,203.29 65.3,203.36 65.05,203.42 64.8,203.49 64.55,203.56 64.3,203.63 64.05,203.7 63.8,203.76 63.55,203.83 63.3,203.9 63.05,203.97 62.8,204.04 62.55,204.1 62.3,204.17 62.05,204.24 61.8,204.31 61.55,204.38 61.3,204.44 61.05,204.51 60.8,204.58 60.55,204.65 60.3,204.72 60.05,204.78 59.8,204.84 59.55,204.9 59.3,204.96 59.05,205.01 58.8,205.07 58.55,205.13 58.3,205.18 58.05,205.24 57.8,205.3 57.55,205.36 57.3,205.41 57.05,205.47 56.8,205.53 56.55,205.58 56.3,205.64 56.05,205.7 55.8,205.75 55.55,205.81 55.3,205.87 55.05,205.92 54.8,205.98 54.55,206.04 54.3,206.09 54.05,206.15 53.8,206.21 53.55,206.26 53.3,206.32 53.05,206.38 52.8,206.44 52.55,206.49 52.3,206.55 52.05,206.61 51.8,206.66 51.55,206.72 51.3,206.78 51.05,206.83 50.8,206.89 50.55,206.95 50.3,207 50.05,207.06 49.8,207.12 49.55,207.17 49.3,207.23 49.05,207.29 48.8,207.34 48.55,207.4 48.3,207.46 48.05,207.52 47.8,207.57 47.55,207.63 47.3,207.69 47.05,207.74 46.8,207.8 46.55,207.86 46.3,207.91 46.05,207.97 45.8,208.03 45.55,208.08 45.3,208.14 45.05,208.2 44.8,208.25 44.55,208.31 44.3,208.37 44.05,208.42 43.8,208.48 43.55,208.54 43.3,208.6 43.05,208.65 42.8,208.71 42.55,208.77 42.3,208.82 42.05,208.88 41.8,208.94 41.55,208.99 41.3,209.05Z" fill="url(#grad_r)"/>
<g stroke="#ff0000"><line x1="171" y1="22" x2="171" y2="112" stroke-width="1.4" stroke-opacity="0.18"/><line x1="173.6" y1="22" x2="173.6" y2="112" stroke-width="1.8" stroke-opacity="0.5"/><line x1="176.8" y1="26" x2="176.8" y2="112" stroke-width="1.4" stroke-opacity="0.45"/><line x1="178.4" y1="30" x2="178.4" y2="112" stroke-width="1.1" stroke-opacity="0.6"/><line x1="180.3" y1="37" x2="180.3" y2="112" stroke-width="1.1" stroke-opacity="0.55"/><line x1="181.9" y1="54" x2="181.9" y2="112" stroke-width="1" stroke-opacity="0.65"/></g>
<line x1="184.6" y1="123" x2="184.6" y2="150" stroke="#ff0000" stroke-width="1.1" stroke-opacity="0.45"/>
<line x1="186.1" y1="123" x2="186.1" y2="160" stroke="#ff0000" stroke-width="1.1" stroke-opacity="0.4"/>
<line x1="187.5" y1="128" x2="187.5" y2="165" stroke="#ff0000" stroke-width="1.1" stroke-opacity="0.35"/>
<line x1="175" y1="98" x2="171" y2="130" stroke="#fff" stroke-width="0.6" stroke-opacity="0.3"/>
<line x1="177.5" y1="100" x2="171" y2="146" stroke="#fff" stroke-width="0.6" stroke-opacity="0.3"/>
<line x1="179" y1="104" x2="174.6" y2="134" stroke="#fff" stroke-width="0.6" stroke-opacity="0.3"/>
<line x1="181.4" y1="202.62" x2="181.4" y2="234.4" stroke="#ff0000" stroke-width="1.1" stroke-opacity="1.0"/>
<line x1="182.4" y1="202.63" x2="182.4" y2="234.4" stroke="#ff0000" stroke-width="1.1" stroke-opacity="1.0"/>
<line x1="183.3" y1="202.64" x2="183.3" y2="234.4" stroke="#ff0000" stroke-width="1" stroke-opacity="1.0"/>
<line x1="184.5" y1="202.66" x2="184.5" y2="216.7" stroke="#ff0000" stroke-width="0.9" stroke-opacity="0.9"/>
<line x1="185.3" y1="202.67" x2="185.3" y2="209" stroke="#ff0000" stroke-width="0.7" stroke-opacity="0.6"/>
<line x1="188" y1="202.71" x2="188" y2="207.5" stroke="#ff0000" stroke-width="0.7" stroke-opacity="0.8"/>
<line x1="168.3" y1="202.44" x2="168.3" y2="205.2" stroke="#ff0000" stroke-width="0.7" stroke-opacity="0.8"/>
<line x1="157" y1="202.29" x2="157" y2="195" stroke="#ff0000" stroke-width="0.8"/>
<line x1="159.5" y1="202.33" x2="159.5" y2="191" stroke="#ff0000" stroke-width="0.8"/>
<line x1="154" y1="202.25" x2="154" y2="198.5" stroke="#ff0000" stroke-width="0.8"/>
<line x1="160.8" y1="202.34" x2="160.8" y2="188" stroke="#ff0000" stroke-width="0.8"/>
<line x1="162.2" y1="202.36" x2="162.2" y2="184" stroke="#ff0000" stroke-width="0.8"/>
<line x1="163.4" y1="202.38" x2="163.4" y2="178" stroke="#ff0000" stroke-width="0.8"/>
<line x1="164.6" y1="202.39" x2="164.6" y2="186" stroke="#ff0000" stroke-width="0.8"/>
<line x1="166.2" y1="202.42" x2="166.2" y2="190" stroke="#ff0000" stroke-width="0.8"/>
</g>
<g id="trace_g">
<path d="M41.3,203.25 41.55,203.22 41.8,203.19 42.05,203.16 42.3,203.13 42.55,203.09 42.8,203.06 43.05,203.03 43.3,203 43.55,202.97 43.8,202.94 44.05,202.91 44.3,202.88 44.55,202.85 44.8,202.82 45.05,202.78 45.3,202.75 45.55,202.72 45.8,202.69 46.05,202.66 46.3,202.63 46.55,202.6 46.8,202.57 47.05,202.54 47.3,202.5 47.55,202.47 47.8,202.44 48.05,202.41 48.3,202.38 48.55,202.35 48.8,202.32 49.05,202.29 49.3,202.26 49.55,202.22 49.8,202.19 50.05,202.16 50.3,202.13 50.55,202.1 50.8,202.07 51.05,202.04 51.3,202.01 51.55,201.98 51.8,201.95 52.05,201.91 52.3,201.88 52.55,201.85 52.8,201.82 53.05,201.79 53.3,201.76 53.55,201.73 53.8,201.7 54.05,201.67 54.3,201.63 54.55,201.6 54.8,201.57 55.05,201.54 55.3,201.51 55.55,201.48 55.8,201.45 56.05,201.42 56.3,201.39 56.55,201.35 56.8,201.32 57.05,201.29 57.3,201.26 57.55,201.23 57.8,201.2 58.05,201.17 58.3,201.14 58.55,201.11 58.8,201.08 59.05,201.04 59.3,201.01 59.55,200.98 59.8,200.95 60.05,200.92 60.3,200.88 60.55,200.83 60.8,200.79 61.05,200.75 61.3,200.71 61.55,200.66 61.8,200.62 62.05,200.58 62.3,200.54 62.55,200.5 62.8,200.45 63.05,200.41 63.3,200.37 63.55,200.33 63.8,200.28 64.05,200.24 64.3,200.2 64.55,200.16 64.8,200.11 65.05,200.07 65.3,200.03 65.55,199.99 65.8,199.95 66.05,199.9 66.3,199.86 66.55,199.82 66.8,199.78 67.05,199.73 67.3,199.69 67.55,199.65 67.8,199.61 68.05,199.56 68.3,199.52 68.55,199.48 68.8,199.44 69.05,199.4 69.3,199.35 69.55,199.31 69.8,199.27 70.05,199.23 70.3,199.18 70.55,199.14 70.8,199.1 71.05,199.06 71.3,199.02 71.55,198.97 71.8,198.93 72.05,198.89 72.3,198.85 72.55,198.8 72.8,198.76 73.05,198.72 73.3,198.68 73.55,198.63 73.8,198.59 74.05,198.55 74.3,198.51 74.55,198.47 74.8,198.42 75.05,198.39 75.3,198.38 75.55,198.36 75.8,198.35 76.05,198.34 76.3,198.33 76.55,198.32 76.8,198.3 77.05,198.29 77.3,198.28 77.55,198.27 77.8,198.26 78.05,198.25 78.3,198.23 78.55,198.22 78.8,198.21 79.05,198.2 79.3,198.19 79.55,198.18 79.8,198.16 80.05,198.15 80.3,198.14 80.55,198.13 80.8,198.12 81.05,198.1 81.3,198.09 81.55,198.08 81.8,198.07 82.05,198.06 82.3,198.05 82.55,198.03 82.8,198.02 83.05,197.71 83.3,197.68 83.55,197.66 83.8,197.66 84.05,197.68 84.3,197.7 84.55,197.72 84.8,197.74 85.05,197.75 85.3,197.77 85.55,197.79 85.8,197.81 86.05,197.82 86.3,197.84 86.55,197.86 86.8,197.88 87.05,197.9 87.3,197.91 87.55,197.93 87.8,197.95 88.05,197.97 88.3,197.99 88.55,198 88.8,198.02 89.05,198.04 89.3,198.06 89.55,198.07 89.8,198.09 90.05,198.11 90.3,198.13 90.55,198.15 90.8,198.16 91.05,198.18 91.3,198.2 91.55,198.22 91.8,198.24 92.05,198.26 92.3,198.31 92.55,198.35 92.8,198.4 93.05,198.44 93.3,198.49 93.55,198.53 93.8,198.58 94.05,198.63 94.3,198.67 94.55,198.72 94.8,198.76 95.05,198.81 95.3,198.85 95.55,198.9 95.8,198.95 96.05,198.99 96.3,199.04 96.55,199.08 96.8,199.13 97.05,199.18 97.3,199.22 97.55,199.27 97.8,199.31 98.05,199.36 98.3,199.38 98.55,199.41 98.8,199.44 99.05,199.47 99.3,199.5 99.55,199.53 99.8,199.56 100.05,199.59 100.3,199.62 100.55,199.65 100.8,199.68 101.05,199.71 101.3,199.73 101.55,199.76 101.8,199.79 102.05,199.82 102.3,199.85 102.55,199.88 102.8,199.91 103.05,199.94 103.3,199.97 103.55,200 103.8,200.03 104.05,200.06 104.3,200.09 104.55,200.11 104.8,200.14 105.05,200.17 105.3,200.2 105.55,200.23 105.8,200.26 106.05,200.29 106.3,200.32 106.55,200.35 106.8,200.38 107.05,200.41 107.3,200.44 107.55,200.46 107.8,200.49 108.05,200.52 108.3,200.55 108.55,200.58 108.8,200.61 109.05,200.64 109.3,200.67 109.55,200.7 109.8,200.73 110.05,200.75 110.3,200.77 110.55,200.79 110.8,200.81 111.05,200.82 111.3,200.84 111.55,200.86 111.8,200.88 112.05,200.89 112.3,200.91 112.55,200.93 112.8,200.95 113.05,200.96 113.3,200.98 113.55,201 113.8,201.02 114.05,201.03 114.3,201.05 114.55,201.07 114.8,201.09 115.05,201.1 115.3,201.12 115.55,201.14 115.8,201.16 116.05,201.17 116.3,201.19 116.55,201.21 116.8,201.23 117.05,201.24 117.3,201.26 117.55,201.28 117.8,201.3 118.05,201.31 118.3,201.33 118.55,201.35 118.8,201.37 119.05,201.38 119.3,201.4 119.55,201.42 119.8,201.44 120.05,201.45 120.3,201.44 120.55,201.44 120.8,201.43 121.05,201.43 121.3,201.42 121.55,201.42 121.8,201.41 122.05,201.41 122.3,201.4 122.55,201.4 122.8,201.39 123.05,201.39 123.3,201.38 123.55,201.38 123.8,201.37 124.05,201.37 124.3,201.36 124.55,201.36 124.8,201.35 125.05,201.35 125.3,201.34 125.55,201.34 125.8,201.33 126.05,201.33 126.3,201.32 126.55,201.32 126.8,201.31 127.05,201.31 127.3,201.3 127.55,201.3 127.8,201.29 128.05,201.29 128.3,201.28 128.55,201.28 128.8,201.27 129.05,201.27 129.3,201.26 129.55,201.26 129.8,201.25 130.05,201.25 130.3,201.24 130.55,201.24 130.8,201.23 131.05,201.23 131.3,201.22 131.55,201.22 131.8,201.21 132.05,201.21 132.3,201.2 132.55,201.2 132.8,201.19 133.05,201.19 133.3,201.18 133.55,201.18 133.8,201.17 134.05,201.17 134.3,201.16 134.55,201.16 134.8,201.15 135.05,201.15 135.3,201.14 135.55,201.13 135.8,201.12 136.05,201.11 136.3,201.11 136.55,201.1 136.8,201.09 137.05,201.08 137.3,201.07 137.55,201.06 137.8,201.06 138.05,201.05 138.3,201.04 138.55,201.03 138.8,201.02 139.05,201.01 139.3,201.01 139.55,201 139.8,200.99 140.05,200.98 140.3,200.97 140.55,200.96 140.8,200.96 141.05,200.95 141.3,200.94 141.55,200.93 141.8,200.92 142.05,200.91 142.3,200.91 142.55,200.9 142.8,200.89 143.05,200.88 143.3,200.87 143.55,200.86 143.8,200.86 144.05,200.85 144.3,200.84 144.55,200.83 144.8,200.82 145.05,200.81 145.3,200.81 145.55,200.8 145.8,200.79 146.05,200.78 146.3,200.77 146.55,200.76 146.8,200.76 147.05,200.75 147.3,200.74 147.55,200.73 147.8,200.72 148.05,200.71 148.3,200.71 148.55,200.7 148.8,200.69 149.05,200.68 149.3,200.67 149.55,200.66 149.8,200.66 150.05,200.65 150.3,200.65 150.55,200.66 150.8,200.66 151.05,200.66 151.3,200.67 151.55,200.67 151.8,200.67 152.05,200.68 152.3,200.68 152.55,200.68 152.8,200.69 153.05,200.69 153.3,200.69 153.55,200.7 153.8,200.7 154.05,200.7 154.3,200.71 154.55,200.71 154.8,200.71 155.05,200.72 155.3,200.72 155.55,200.72 155.8,200.73 156.05,200.73 156.3,200.73 156.55,200.74 156.8,200.74 157.05,200.74 157.3,200.75 157.55,200.75 157.8,200.75 158.05,200.76 158.3,200.76 158.55,200.76 158.8,200.77 159.05,200.77 159.3,200.77 159.55,200.78 159.8,200.78 160.05,200.78 160.3,200.79 160.55,200.79 160.8,200.79 161.05,200.8 161.3,200.8 161.55,200.8 161.8,200.81 162.05,200.81 162.3,200.81 162.55,200.82 162.8,200.82 163.05,200.82 163.3,200.83 163.55,200.83 163.8,200.83 164.05,200.84 164.3,200.84 164.55,200.84 164.8,200.85 165.05,200.85 165.3,200.85 165.55,200.86 165.8,200.86 166.05,200.86 166.3,200.87 166.55,200.87 166.8,200.87 167.05,200.88 167.3,200.88 167.55,200.88 167.8,200.89 168.05,200.89 168.3,200.89 168.55,200.9 168.8,200.9 169.05,200.9 169.3,200.91 169.55,200.91 169.8,200.91 170.05,200.92 170.3,200.92 170.55,200.92 170.8,200.93 171.05,200.93 171.3,200.93 171.55,200.94 171.8,200.94 172.05,200.94 172.3,200.95 172.55,200.95 172.8,200.95 173.05,200.96 173.3,200.96 173.55,200.96 173.8,200.97 174.05,200.97 174.3,200.97 174.55,200.98 174.8,200.98 175.05,200.98 175.3,200.99 175.55,200.99 175.8,200.99 176.05,201 176.3,201 176.55,201 176.8,201.01 177.05,201.01 177.3,201.01 177.55,201.02 177.8,201.02 178.05,201.02 178.3,201.03 178.55,201.03 178.8,201.03 179.05,201.04 179.3,201.04 179.55,201.04 179.8,201.05 180.05,201.05 180.3,201.05 180.55,201.06 180.8,200.2 181.05,200.13 181.3,200.07 181.55,200.58 181.8,200.53 182.05,200.49 182.3,200.33 182.55,199.97 182.8,199.6 183.05,199.49 183.3,199.15 183.55,198.82 183.8,198.36 184.05,198 184.3,197.56 184.55,196.96 184.8,196.51 185.05,196.06 185.3,197.34 185.55,197.01 185.8,196.69 186.05,193.76 186.3,192.99 186.55,191.79 186.8,197.62 187.05,186.46 187.3,184.98 187.55,172.68 187.8,169.68 188.05,166.77 188.3,186.78 188.55,185.62 188.8,184.47 189.05,155.32 189.3,152.64 189.55,149.96 189.8,147.29 190.05,144.61 190.3,22.1 190.55,22.1 190.8,22.1 191.05,22.1 191.3,22.1 191.55,22.1 191.8,22.1 192.05,22.1 192.3,22.1 192.55,22.1 192.8,22.1 193.05,22.1 193.3,22.1 193.55,22.1 193.8,22.1 194.05,22.1 194.3,22.1 194.55,22.1 194.8,24 195.05,24 195.3,24 195.55,24 195.8,24 196.05,24 196.3,24 196.55,24 196.8,27.8 197.05,27.8 197.3,27.8 197.55,27.8 197.8,27.8 198.05,27.8 198.3,27.8 198.55,27.8 198.8,32.2 199.05,32.2 199.3,32.2 199.55,32.2 199.8,32.2 200.05,32.2 200.3,32.2 200.55,32.2 200.8,47 201.05,47 201.3,47 201.55,47 201.8,47 202.05,50.25 202.3,68.33 202.55,89.17 202.8,110 203.05,113.48 203.3,116.96 203.55,120.43 203.8,123.91 204.05,127.39 204.3,130.87 204.55,134.35 204.8,137.83 205.05,141.3 205.3,143.33 205.55,145 205.8,146.67 206.05,148.33 206.3,150 206.55,183.4 206.8,187.44 207.05,174.07 207.3,176.99 207.55,179.92 207.8,188.53 208.05,190.19 208.3,190.2 208.55,185.01 208.8,185.01 209.05,185.01 209.3,193.53 209.55,193.54 209.8,193.54 210.05,186.71 210.3,186.66 210.55,186.6 210.8,189.37 211.05,189.33 211.3,189.28 211.55,188.83 211.8,188.78 212.05,188.76 212.3,185.13 212.55,185.25 212.8,185.38 213.05,187.4 213.3,187.51 213.55,187.62 213.8,185.4 214.05,185.52 214.3,185.6 214.55,192.5 214.8,192.56 215.05,192.61 215.3,188.21 215.55,188.28 215.8,188.35 216.05,187.02 216.3,187.1 216.55,187.18 216.8,188.09 217.05,188.4 217.3,189.64 217.55,190.97 217.8,192.2 218.05,193.27 218.3,192.77 218.55,193.26 218.8,193.75 219.05,194.87 219.3,195.33 219.55,195.79 219.8,197.8 220.05,198.11 220.3,198.24 220.55,197.76 220.8,197.91 221.05,198.06 221.3,200.86 221.55,200.94 221.8,201.01 222.05,199.56 222.3,199.68 222.55,199.8 222.8,200.34 223.05,200.44 223.3,200.55 223.55,198.73 223.8,198.91 224.05,199.1 224.3,199.92 224.55,200.08 224.8,200.23 225.05,199.93 225.3,200.11 225.55,200.3 225.8,200.47 226.05,200.65 226.3,200.79 226.55,201.03 226.8,201.17 227.05,201.3 227.3,201.81 227.55,201.94 227.8,202.06 228.05,201.95 228.3,202.09 228.55,202.22 228.8,202.34 229.05,202.47 229.3,202.61 229.55,202.72 229.8,202.85 230.05,202.99 230.3,203.53 230.55,203.56 230.8,203.6 231.05,203.57 231.3,203.67 231.55,203.71 231.8,203.75 232.05,203.79 232.3,203.83 232.55,203.86 232.8,203.9 233.05,203.95 233.3,203.98 233.55,204.01 233.8,204.05 234.05,204.11 234.3,204.15 234.55,204.19 234.8,204.28 235.05,204.32 235.3,204.36 235.55,204.45 235.8,204.5 236.05,204.54 236.3,204.51 236.55,204.55 236.8,204.59 237.05,204.6 237.3,204.64 237.55,204.68 237.8,204.88 238.05,204.93 238.3,204.97 238.55,204.96 238.8,205.01 239.05,205.05 239.3,205 239.55,205.04 239.8,205.09 240.05,205.21 240.3,205.28 240.55,205.34 240.8,205.25 241.05,205.31 241.3,205.38 241.55,205.55 241.8,205.62 242.05,205.68 242.3,205.7 242.55,205.77 242.8,205.83 243.05,205.82 243.3,205.88 243.55,205.95 243.8,205.92 244.05,205.99 244.3,206.05 244.55,206.19 244.8,206.25 245.05,206.32 245.3,206.74 245.55,206.81 245.8,206.88 246.05,206.92 246.3,206.99 246.55,207.06 246.8,206.91 247.05,206.97 247.3,207.03 247.55,207.4 247.8,207.46 248.05,207.53 248.3,207.08 248.55,207.14 248.8,207.2 249.05,207.67 249.3,207.73 249.55,207.79 249.8,207.87 250.05,207.93 250.3,207.97 250.55,207.54 250.8,207.58 251.05,207.63 251.3,208.24 251.55,208.28 251.8,208.33 252.05,208.32 252.3,208.36 252.55,208.41 252.8,208.24 253.05,208.29 253.3,208.34 253.55,208.41 253.8,208.45 254.05,208.5 254.3,208.61 254.55,208.66 254.8,208.71 255.05,208.68 255.3,208.72 255.55,208.76 255.8,208.5 256.05,208.54 256.3,208.58 256.55,208.88 256.8,208.92 257.05,208.96 257.3,209.3 257.55,209.34 257.8,209.38 258.05,209.19 258.3,209.23 258.55,209.27 258.8,209.1 259.05,209.14 259.3,209.18 259.55,209.69 259.8,209.73 260.05,209.76 260.3,209.47 260.55,209.51 260.8,209.55 261.05,209.42 261.3,209.45 261.55,209.49 261.8,209.82 262.05,209.86 262.3,209.9 262.55,209.64 262.8,209.68 263.05,209.72 263.3,210.08 263.55,210.12 263.8,210.16 264.05,210.23 264.3,210.25 264.55,210.27 264.8,209.95 265.05,209.97 265.3,209.99 265.55,210.1 265.8,210.12 266.05,210.14 266.3,210.36 266.55,210.38 266.8,210.4 267.05,210.16 267.3,210.18 267.55,210.2 267.8,210.65 268.05,210.67 268.3,210.69 268.55,210.65 268.8,210.67 269.05,210.69 269.3,210.32 269.55,210.34 269.8,210.36 270.05,210.67 270.3,210.69 270.55,210.71 270.8,210.72 271.05,210.74 271.3,210.77 271.55,210.65 271.8,210.67 272.05,210.69 272.3,210.91 272.55,210.93 272.8,210.95 273.05,210.81 273.3,210.83 273.55,210.85 273.8,210.89 274.05,210.91 274.3,210.93 274.55,210.91 274.8,210.94 275.05,210.96 275.3,211.1 275.55,211.12 275.8,211.15 276.05,210.77 276.3,210.79 276.55,210.81 276.8,211.25 277.05,211.27 277.3,211.29 277.55,210.97 277.8,211 278.05,211.02 278.3,211.11 278.55,211.13 278.8,211.16 279.05,211.59 279.3,211.61 279.55,211.63 279.8,211.24 280.05,211.26 280.3,211.28 280.55,211.58 280.8,211.6 281.05,211.62 281.3,211.38 281.55,211.41 281.8,211.43 282.05,211.97 282.3,211.99 282.55,212.01 282.8,212.02 283.05,212.04 283.3,212.05 283.55,211.6 283.8,211.61 284.05,211.62 284.3,212.04 284.55,212.05 284.8,212.05 285.05,212.06 285.3,212.07 285.55,212.08 285.8,211.6 286.05,211.61 286.3,211.62 286.55,211.74 286.8,211.75 287.05,211.76 287.3,211.64 287.55,211.65 287.8,211.66 288.05,211.7 288.3,211.71 288.55,211.72 288.8,211.93 289.05,211.94 289.3,211.95 289.55,211.94 289.8,211.95 290.05,211.96 290.3,211.94 290.55,211.95 290.8,211.96 291.05,211.79 291.3,211.8 291.55,211.81 291.8,212.05 292.05,212.06 292.3,212.07 292.55,212.37 292.8,212.38 293.05,212.38 293.3,211.98 293.55,211.99 293.8,212 294.05,212.24 294.3,212.25 294.55,212.26 294.8,211.95 295.05,211.96 295.3,211.97 295.55,212.34 295.8,212.35 296.05,212.36 296.3,212.25 296.55,212.26 296.8,212.26 297.05,212.51 297.3,212.52 297.55,212.53 297.8,211.95 298.05,211.96 298.3,211.97 298.55,212.39 298.8,212.39 299.05,212.4 299.3,212.25 299.55,212.26 299.8,212.27 300.05,212.24 300.3,212.25 300.55,212.26 300.8,212.24 301.05,212.25 301.3,212.26 301.55,212.67 301.8,212.68 302.05,212.69 302.3,212.24 302.55,212.25 302.8,212.26 303.05,212.53 303.3,212.54 303.55,212.55 303.8,212.14 304.05,212.15 304.3,212.16 304.55,212.82 304.8,212.83 305.05,212.84 305.3,212.74 305.55,212.75 305.8,212.76 306.05,212.69 306.3,212.7 306.55,212.7 306.8,212.59 307.05,212.6 307.3,212.61 307.55,212.51 307.8,212.52 308.05,212.53 308.3,212.59 308.55,212.6 308.8,212.61 309.05,212.78 309.3,212.79 309.55,212.79 309.8,212.7 310.05,212.71 310.3,212.72 310.55,213 310.8,213.01 311.05,213.01 311.3,212.63 311.55,212.63 311.8,212.64 312.05,213.03 312.3,213.04 312.55,213.05 312.8,212.66 313.05,212.67 313.3,212.68 313.55,212.58 313.8,212.59 314.05,212.6 314.3,212.6 314.55,212.61 314.8,212.62 315.05,212.72 315.3,212.73 315.55,212.74 315.8,213.21 316.05,213.22 316.3,213.23 316.55,213.15 316.8,213.16 317.05,213.17 317.3,213.14 317.55,213.14 317.8,213.15 318.05,212.86 318.3,212.87 318.55,212.88 318.8,212.83 319.05,212.84 319.3,212.85 319.55,212.96 319.8,212.97 320.05,212.98 320.3,213.2 320.55,213.21 320.8,213.22 321.05,212.87 321.3,212.88 321.55,212.89 321.8,213.16 322.05,213.17 322.3,213.18 322.55,213.07 322.8,213.08 323.05,213.09 323.3,213.37 323.55,213.38 323.8,213.39 324.05,213.32 324.3,213.33 324.55,213.34 324.8,213 325.05,213.01 325.3,213.02 325.55,213.14 325.8,213.15 326.05,213.16 326.3,213.52 326.55,213.53 326.8,213.54 327.05,213.6 327.3,213.61 327.55,213.62 327.8,213.37 328.05,213.38 328.3,213.39 328.55,213.62 328.8,213.63 329.05,213.63 329.3,213.21 329.55,213.22 329.8,213.23 330.05,213.38 330.3,213.39 330.55,213.4 330.8,213.57 331.05,213.58 331.3,213.59 331.55,213.17 L331.55,214.89 331.3,215.43 331.05,215.42 330.8,215.41 330.55,214.89 330.3,214.88 330.05,214.88 329.8,215.57 329.55,215.56 329.3,215.55 329.05,215.38 328.8,215.37 328.55,215.36 328.3,214.75 328.05,214.75 327.8,214.74 327.55,215.27 327.3,215.26 327.05,215.25 326.8,214.71 326.55,214.7 326.3,214.69 326.05,214.81 325.8,214.8 325.55,214.79 325.3,214.87 325.05,214.86 324.8,214.85 324.55,214.93 324.3,214.92 324.05,214.91 323.8,214.85 323.55,214.84 323.3,214.83 323.05,214.64 322.8,214.63 322.55,214.62 322.3,214.67 322.05,214.66 321.8,214.65 321.55,214.67 321.3,214.67 321.05,214.66 320.8,214.74 320.55,214.73 320.3,214.72 320.05,214.9 319.8,214.89 319.55,214.88 319.3,214.9 319.05,214.89 318.8,214.88 318.55,215.08 318.3,215.08 318.05,215.07 317.8,214.96 317.55,214.95 317.3,214.94 317.05,214.77 316.8,214.76 316.55,214.75 316.3,214.64 316.05,214.63 315.8,214.62 315.55,214.4 315.3,214.39 315.05,214.38 314.8,214.55 314.55,214.54 314.3,214.53 314.05,214.12 313.8,214.11 313.55,214.11 313.3,214.29 313.05,214.28 312.8,214.27 312.55,214.57 312.3,214.56 312.05,214.55 311.8,214.12 311.55,214.11 311.3,214.1 311.05,214.12 310.8,214.11 310.55,214.1 310.3,214.25 310.05,214.24 309.8,214.24 309.55,214.29 309.3,214.28 309.05,214.28 308.8,214.51 308.55,214.5 308.3,214.49 308.05,214.23 307.8,214.22 307.55,214.21 307.3,213.89 307.05,213.88 306.8,213.87 306.55,214.48 306.3,214.47 306.05,214.46 305.8,214.29 305.55,214.28 305.3,214.27 305.05,214.49 304.8,214.48 304.55,214.47 304.3,214.6 304.05,214.59 303.8,214.58 303.55,213.76 303.3,213.75 303.05,213.74 302.8,213.74 302.55,213.74 302.3,213.73 302.05,214.19 301.8,214.18 301.55,214.17 301.3,214.25 301.05,214.24 300.8,214.23 300.55,214.45 300.3,214.44 300.05,214.43 299.8,213.71 299.55,213.7 299.3,213.69 299.05,214.36 298.8,214.36 298.55,214.35 298.3,213.67 298.05,213.66 297.8,213.65 297.55,214 297.3,213.99 297.05,213.98 296.8,214.08 296.55,214.07 296.3,214.06 296.05,214.31 295.8,214.31 295.55,214.3 295.3,214.12 295.05,214.11 294.8,214.1 294.55,213.66 294.3,213.65 294.05,213.64 293.8,213.57 293.55,213.56 293.3,213.55 293.05,213.61 292.8,213.6 292.55,213.59 292.3,213.83 292.05,213.82 291.8,213.81 291.55,213.62 291.3,213.61 291.05,213.61 290.8,213.25 290.55,213.24 290.3,213.24 290.05,213.56 289.8,213.55 289.55,213.55 289.3,213.8 289.05,213.79 288.8,213.78 288.55,213.47 288.3,213.46 288.05,213.45 287.8,213.25 287.55,213.24 287.3,213.23 287.05,213.93 286.8,213.92 286.55,213.91 286.3,213.5 286.05,213.49 285.8,213.48 285.55,213.63 285.3,213.63 285.05,213.62 284.8,213.75 284.55,213.74 284.3,213.73 284.05,213.53 283.8,213.52 283.55,213.51 283.3,213.09 283.05,213.08 282.8,213.06 282.55,213.47 282.3,213.45 282.05,213.43 281.8,213.19 281.55,213.17 281.3,213.15 281.05,213.58 280.8,213.55 280.55,213.53 280.3,212.92 280.05,212.89 279.8,212.87 279.55,213.16 279.3,213.14 279.05,213.12 278.8,212.91 278.55,212.89 278.3,212.87 278.05,212.87 277.8,212.85 277.55,212.83 277.3,213.24 277.05,213.22 276.8,213.19 276.55,212.58 276.3,212.56 276.05,212.54 275.8,213.06 275.55,213.04 275.3,213.01 275.05,213.15 274.8,213.13 274.55,213.11 274.3,212.67 274.05,212.64 273.8,212.62 273.55,212.2 273.3,212.18 273.05,212.16 272.8,212.26 272.55,212.24 272.3,212.21 272.05,212.3 271.8,212.28 271.55,212.26 271.3,212.78 271.05,212.76 270.8,212.74 270.55,212.22 270.3,212.19 270.05,212.17 269.8,212.32 269.55,212.3 269.3,212.28 269.05,212.57 268.8,212.55 268.55,212.53 268.3,211.95 268.05,211.93 267.8,211.91 267.55,211.78 267.3,211.76 267.05,211.74 266.8,211.64 266.55,211.62 266.3,211.59 266.05,212.11 265.8,212.09 265.55,212.07 265.3,211.9 265.05,211.88 264.8,211.86 264.55,211.73 264.3,211.7 264.05,211.68 263.8,212 263.55,211.96 263.3,211.92 263.05,211.33 262.8,211.29 262.55,211.25 262.3,211.93 262.05,211.89 261.8,211.85 261.55,211.41 261.3,211.37 261.05,211.34 260.8,211.56 260.55,211.52 260.3,211.48 260.05,211.31 259.8,211.27 259.55,211.23 259.3,211.18 259.05,211.14 258.8,211.1 258.55,210.77 258.3,210.73 258.05,210.69 257.8,210.79 257.55,210.75 257.3,210.71 257.05,210.47 256.8,210.43 256.55,210.39 256.3,210.74 256.05,210.71 255.8,210.67 255.55,210.05 255.3,210.02 255.05,209.98 254.8,210.06 254.55,210.01 254.3,209.96 254.05,210.36 253.8,210.31 253.55,210.26 253.3,210.32 253.05,210.27 252.8,210.22 252.55,209.88 252.3,209.83 252.05,209.78 251.8,209.92 251.55,209.87 251.3,209.82 251.05,209.28 250.8,209.23 250.55,209.18 250.3,209.33 250.05,209.29 249.8,209.22 249.55,209.13 249.3,209.06 249.05,208.99 248.8,209.06 248.55,208.99 248.3,208.92 248.05,208.49 247.8,208.42 247.55,208.35 247.3,208.72 247.05,208.65 246.8,208.58 246.55,208.57 246.3,208.5 246.05,208.44 245.8,208.07 245.55,208.01 245.3,207.95 245.05,208.06 244.8,208 244.55,207.93 244.3,208.2 244.05,208.13 243.8,208.06 243.55,207.44 243.3,207.38 243.05,207.32 242.8,207.53 242.55,207.47 242.3,207.4 242.05,207.51 241.8,207.44 241.55,207.37 241.3,207.36 241.05,207.29 240.8,207.22 240.55,206.74 240.3,206.69 240.05,206.63 239.8,206.78 239.55,206.74 239.3,206.7 239.05,206.46 238.8,206.43 238.55,206.39 238.3,206.73 238.05,206.68 237.8,206.64 237.55,206.47 237.3,206.43 237.05,206.39 236.8,206.2 236.55,206.16 236.3,206.13 236.05,206.24 235.8,206.2 235.55,206.16 235.3,206.02 235.05,205.99 234.8,205.95 234.55,205.96 234.3,205.92 234.05,205.88 233.8,205.83 233.55,205.79 233.3,205.75 233.05,205.7 232.8,205.66 232.55,205.63 232.3,205.61 232.05,205.57 231.8,205.52 231.55,205.47 231.3,205.43 231.05,205.38 230.8,205.33 230.55,205.29 230.3,205.24 230.05,205.19 229.8,205.15 229.55,205.1 229.3,205.05 229.05,205.01 228.8,204.96 228.55,204.91 228.3,204.87 228.05,204.82 227.8,204.77 227.55,204.73 227.3,204.68 227.05,204.63 226.8,204.59 226.55,204.54 226.3,204.49 226.05,204.45 225.8,204.4 225.55,204.35 225.3,204.31 225.05,204.26 224.8,203.94 224.55,203.93 224.3,203.92 224.05,203.91 223.8,203.9 223.55,203.89 223.3,203.88 223.05,203.87 222.8,203.86 222.55,203.85 222.3,203.84 222.05,203.83 221.8,203.82 221.55,203.81 221.3,203.8 221.05,203.79 220.8,203.78 220.55,203.77 220.3,203.76 220.05,203.75 219.8,203.74 219.55,203.73 219.3,203.72 219.05,203.71 218.8,203.7 218.55,203.69 218.3,203.68 218.05,203.67 217.8,203.66 217.55,203.65 217.3,203.64 217.05,203.63 216.8,203.62 216.55,203.61 216.3,203.6 216.05,203.59 215.8,203.58 215.55,203.57 215.3,203.56 215.05,203.55 214.8,203.54 214.55,203.53 214.3,203.52 214.05,203.51 213.8,203.5 213.55,203.49 213.3,203.48 213.05,203.47 212.8,203.46 212.55,203.45 212.3,203.44 212.05,203.43 211.8,203.42 211.55,203.41 211.3,203.4 211.05,203.39 210.8,203.38 210.55,203.37 210.3,203.36 210.05,203.35 209.8,203.34 209.55,203.33 209.3,203.32 209.05,203.31 208.8,203.3 208.55,203.29 208.3,203.28 208.05,203.27 207.8,203.26 207.55,203.25 207.3,203.24 207.05,203.23 206.8,203.22 206.55,203.21 206.3,203.2 206.05,203.19 205.8,203.18 205.55,203.17 205.3,203.16 205.05,203.15 204.8,203.14 204.55,203.13 204.3,203.12 204.05,203.11 203.8,203.1 203.55,203.09 203.3,203.08 203.05,203.07 202.8,203.06 202.55,203.05 202.3,203.04 202.05,197.25 201.8,186 201.55,181.63 201.3,177.25 201.05,172.88 200.8,168.6 200.55,164.35 200.3,160.1 200.05,155.85 199.8,152.86 199.55,150.18 199.3,147.5 199.05,144.82 198.8,142.14 198.55,139.61 198.3,137.67 198.05,135.72 197.8,133.78 197.55,131.83 197.3,129.89 197.05,127.94 196.8,126 196.55,127.63 196.3,129.26 196.05,130.89 195.8,132.52 195.55,134.15 195.3,135.78 195.05,137.41 194.8,139.04 194.55,140.67 194.3,142.4 194.05,144.15 193.8,145.9 193.55,147.65 193.3,149.4 193.05,151.15 192.8,152.9 192.55,154.65 192.3,156.55 192.05,158.48 191.8,160.41 191.55,162.34 191.3,164.27 191.05,166.2 190.8,168.14 190.55,170.07 190.3,172 190.05,175.5 189.8,179 189.55,182.5 189.3,186 189.05,186.8 188.8,187.61 188.55,188.41 188.3,189.21 188.05,190.02 187.8,190.82 187.55,191.62 187.3,192.43 187.05,193.23 186.8,194.04 186.55,194.84 186.3,195.45 186.05,196.01 185.8,196.57 185.55,197.14 185.3,197.7 185.05,198.26 184.8,198.82 184.55,199.39 184.3,201.1 184.05,202.6 183.8,202.6 183.55,202.6 183.3,202.59 183.05,202.59 182.8,202.59 182.55,202.58 182.3,202.58 182.05,202.58 181.8,202.57 181.55,202.57 181.3,202.57 181.05,202.56 180.8,202.56 180.55,202.56 180.3,202.55 180.05,202.55 179.8,202.55 179.55,202.54 179.3,202.54 179.05,202.54 178.8,202.53 178.55,202.53 178.3,202.53 178.05,202.52 177.8,202.52 177.55,202.52 177.3,202.51 177.05,202.51 176.8,202.51 176.55,202.5 176.3,202.5 176.05,202.5 175.8,202.49 175.55,202.49 175.3,202.49 175.05,202.48 174.8,202.48 174.55,202.48 174.3,202.47 174.05,202.47 173.8,202.47 173.55,202.46 173.3,202.46 173.05,202.46 172.8,202.45 172.55,202.45 172.3,202.45 172.05,202.44 171.8,202.44 171.55,202.44 171.3,202.43 171.05,202.43 170.8,202.43 170.55,202.42 170.3,202.42 170.05,202.42 169.8,202.41 169.55,202.41 169.3,202.41 169.05,202.4 168.8,202.4 168.55,202.4 168.3,202.39 168.05,202.39 167.8,202.39 167.55,202.38 167.3,202.38 167.05,202.38 166.8,202.37 166.55,202.37 166.3,202.37 166.05,202.36 165.8,202.36 165.55,202.36 165.3,202.35 165.05,202.35 164.8,202.35 164.55,202.34 164.3,202.34 164.05,202.34 163.8,202.33 163.55,202.33 163.3,202.33 163.05,202.32 162.8,202.32 162.55,202.32 162.3,202.31 162.05,202.31 161.8,202.31 161.55,202.3 161.3,202.3 161.05,202.3 160.8,202.29 160.55,202.29 160.3,202.29 160.05,202.28 159.8,202.28 159.55,202.28 159.3,202.27 159.05,202.27 158.8,202.27 158.55,202.26 158.3,202.26 158.05,202.26 157.8,202.25 157.55,202.25 157.3,202.25 157.05,202.24 156.8,202.24 156.55,202.24 156.3,202.23 156.05,202.23 155.8,202.23 155.55,202.22 155.3,202.22 155.05,202.22 154.8,202.21 154.55,202.21 154.3,202.21 154.05,202.2 153.8,202.2 153.55,202.2 153.3,202.19 153.05,202.19 152.8,202.19 152.55,202.18 152.3,202.18 152.05,202.18 151.8,202.17 151.55,202.17 151.3,202.17 151.05,202.16 150.8,202.16 150.55,202.16 150.3,202.15 150.05,202.15 149.8,202.16 149.55,202.16 149.3,202.17 149.05,202.18 148.8,202.19 148.55,202.2 148.3,202.21 148.05,202.21 147.8,202.22 147.55,202.23 147.3,202.24 147.05,202.25 146.8,202.26 146.55,202.26 146.3,202.27 146.05,202.28 145.8,202.29 145.55,202.3 145.3,202.31 145.05,202.31 144.8,202.32 144.55,202.33 144.3,202.34 144.05,202.35 143.8,202.36 143.55,202.36 143.3,202.37 143.05,202.38 142.8,202.39 142.55,202.4 142.3,202.41 142.05,202.41 141.8,202.42 141.55,202.43 141.3,202.44 141.05,202.45 140.8,202.46 140.55,202.46 140.3,202.47 140.05,202.48 139.8,202.49 139.55,202.5 139.3,202.51 139.05,202.51 138.8,202.52 138.55,202.53 138.3,202.54 138.05,202.55 137.8,202.56 137.55,202.56 137.3,202.57 137.05,202.58 136.8,202.59 136.55,202.6 136.3,202.61 136.05,202.61 135.8,202.62 135.55,202.63 135.3,202.64 135.05,202.65 134.8,202.65 134.55,202.66 134.3,202.66 134.05,202.67 133.8,202.67 133.55,202.68 133.3,202.68 133.05,202.69 132.8,202.69 132.55,202.7 132.3,202.7 132.05,202.71 131.8,202.71 131.55,202.72 131.3,202.72 131.05,202.73 130.8,202.73 130.55,202.74 130.3,202.74 130.05,202.75 129.8,202.75 129.55,202.76 129.3,202.76 129.05,202.77 128.8,202.77 128.55,202.78 128.3,202.78 128.05,202.79 127.8,202.79 127.55,202.8 127.3,202.8 127.05,202.81 126.8,202.81 126.55,202.82 126.3,202.82 126.05,202.83 125.8,202.83 125.55,202.84 125.3,202.84 125.05,202.85 124.8,202.85 124.55,202.86 124.3,202.86 124.05,202.87 123.8,202.87 123.55,202.88 123.3,202.88 123.05,202.89 122.8,202.89 122.55,202.9 122.3,202.9 122.05,202.91 121.8,202.91 121.55,202.92 121.3,202.92 121.05,202.93 120.8,202.93 120.55,202.94 120.3,202.94 120.05,202.95 119.8,202.94 119.55,202.92 119.3,202.9 119.05,202.88 118.8,202.87 118.55,202.85 118.3,202.83 118.05,202.81 117.8,202.8 117.55,202.78 117.3,202.76 117.05,202.74 116.8,202.73 116.55,202.71 116.3,202.69 116.05,202.67 115.8,202.66 115.55,202.64 115.3,202.62 115.05,202.6 114.8,202.59 114.55,202.57 114.3,202.55 114.05,202.53 113.8,202.52 113.55,202.5 113.3,202.48 113.05,202.46 112.8,202.45 112.55,202.43 112.3,202.41 112.05,202.39 111.8,202.38 111.55,202.36 111.3,202.34 111.05,202.32 110.8,202.31 110.55,202.29 110.3,202.27 110.05,202.25 109.8,202.23 109.55,202.2 109.3,202.17 109.05,202.14 108.8,202.11 108.55,202.08 108.3,202.05 108.05,202.02 107.8,201.99 107.55,201.96 107.3,201.94 107.05,201.91 106.8,201.88 106.55,201.85 106.3,201.82 106.05,201.79 105.8,201.76 105.55,201.73 105.3,201.7 105.05,201.67 104.8,201.64 104.55,201.61 104.3,201.59 104.05,201.56 103.8,201.53 103.55,201.5 103.3,201.47 103.05,201.44 102.8,201.41 102.55,201.38 102.3,201.35 102.05,201.32 101.8,201.29 101.55,201.26 101.3,201.23 101.05,201.21 100.8,201.18 100.55,201.15 100.3,201.12 100.05,201.09 99.8,201.06 99.55,201.03 99.3,201 99.05,200.97 98.8,200.94 98.55,200.91 98.3,200.88 98.05,200.86 97.8,200.81 97.55,200.77 97.3,200.72 97.05,200.68 96.8,200.63 96.55,200.58 96.3,200.54 96.05,200.49 95.8,200.45 95.55,200.4 95.3,200.35 95.05,200.31 94.8,200.26 94.55,200.22 94.3,200.17 94.05,200.13 93.8,200.08 93.55,200.03 93.3,199.99 93.05,199.94 92.8,199.9 92.55,199.85 92.3,199.81 92.05,199.76 91.8,199.74 91.55,199.72 91.3,199.7 91.05,199.68 90.8,199.66 90.55,199.65 90.3,199.63 90.05,199.61 89.8,199.59 89.55,199.57 89.3,199.56 89.05,199.54 88.8,199.52 88.55,199.5 88.3,199.49 88.05,199.47 87.8,199.45 87.55,199.43 87.3,199.41 87.05,199.4 86.8,199.38 86.55,199.36 86.3,199.34 86.05,199.32 85.8,199.31 85.55,199.29 85.3,199.27 85.05,199.25 84.8,199.24 84.55,199.22 84.3,199.2 84.05,199.18 83.8,199.16 83.55,199.16 83.3,199.18 83.05,199.21 82.8,199.52 82.55,199.53 82.3,199.55 82.05,199.56 81.8,199.57 81.55,199.58 81.3,199.59 81.05,199.6 80.8,199.62 80.55,199.63 80.3,199.64 80.05,199.65 79.8,199.66 79.55,199.68 79.3,199.69 79.05,199.7 78.8,199.71 78.55,199.72 78.3,199.73 78.05,199.75 77.8,199.76 77.55,199.77 77.3,199.78 77.05,199.79 76.8,199.8 76.55,199.82 76.3,199.83 76.05,199.84 75.8,199.85 75.55,199.86 75.3,199.88 75.05,199.89 74.8,199.92 74.55,199.97 74.3,200.01 74.05,200.05 73.8,200.09 73.55,200.13 73.3,200.18 73.05,200.22 72.8,200.26 72.55,200.3 72.3,200.35 72.05,200.39 71.8,200.43 71.55,200.47 71.3,200.52 71.05,200.56 70.8,200.6 70.55,200.64 70.3,200.68 70.05,200.73 69.8,200.77 69.55,200.81 69.3,200.85 69.05,200.9 68.8,200.94 68.55,200.98 68.3,201.02 68.05,201.06 67.8,201.11 67.55,201.15 67.3,201.19 67.05,201.23 66.8,201.28 66.55,201.32 66.3,201.36 66.05,201.4 65.8,201.45 65.55,201.49 65.3,201.53 65.05,201.57 64.8,201.61 64.55,201.66 64.3,201.7 64.05,201.74 63.8,201.78 63.55,201.83 63.3,201.87 63.05,201.91 62.8,201.95 62.55,202 62.3,202.04 62.05,202.08 61.8,202.12 61.55,202.16 61.3,202.21 61.05,202.25 60.8,202.29 60.55,202.33 60.3,202.38 60.05,202.42 59.8,202.45 59.55,202.48 59.3,202.51 59.05,202.54 58.8,202.58 58.55,202.61 58.3,202.64 58.05,202.67 57.8,202.7 57.55,202.73 57.3,202.76 57.05,202.79 56.8,202.82 56.55,202.85 56.3,202.89 56.05,202.92 55.8,202.95 55.55,202.98 55.3,203.01 55.05,203.04 54.8,203.07 54.55,203.1 54.3,203.13 54.05,203.17 53.8,203.2 53.55,203.23 53.3,203.26 53.05,203.29 52.8,203.32 52.55,203.35 52.3,203.38 52.05,203.41 51.8,203.45 51.55,203.48 51.3,203.51 51.05,203.54 50.8,203.57 50.55,203.6 50.3,203.63 50.05,203.66 49.8,203.69 49.55,203.72 49.3,203.76 49.05,203.79 48.8,203.82 48.55,203.85 48.3,203.88 48.05,203.91 47.8,203.94 47.55,203.97 47.3,204 47.05,204.04 46.8,204.07 46.55,204.1 46.3,204.13 46.05,204.16 45.8,204.19 45.55,204.22 45.3,204.25 45.05,204.28 44.8,204.32 44.55,204.35 44.3,204.38 44.05,204.41 43.8,204.44 43.55,204.47 43.3,204.5 43.05,204.53 42.8,204.56 42.55,204.59 42.3,204.63 42.05,204.66 41.8,204.69 41.55,204.72 41.3,204.75Z" fill="url(#grad_g)"/>
<g stroke="#00ff00"><line x1="191.2" y1="22.1" x2="191.2" y2="112" stroke-width="1" stroke-opacity="0.3"/><line x1="193.2" y1="22.1" x2="193.2" y2="112" stroke-width="1.4" stroke-opacity="0.6"/><line x1="196.4" y1="26.4" x2="196.4" y2="112" stroke-width="1" stroke-opacity="0.6"/><line x1="198.2" y1="30.6" x2="198.2" y2="112" stroke-width="1" stroke-opacity="0.6"/><line x1="200.2" y1="33" x2="200.2" y2="112" stroke-width="1" stroke-opacity="0.4"/><line x1="201.4" y1="47" x2="201.4" y2="112" stroke-width="0.9" stroke-opacity="0.6"/></g>
<line x1="203.4" y1="100" x2="203.4" y2="140" stroke="#00ff00" stroke-width="1.1" stroke-opacity="0.4"/>
<line x1="194.5" y1="98" x2="191.3" y2="128" stroke="#fff" stroke-width="0.6" stroke-opacity="0.3"/>
<line x1="196.8" y1="100" x2="191.8" y2="146" stroke="#fff" stroke-width="0.6" stroke-opacity="0.3"/>
<line x1="198.5" y1="104" x2="194.4" y2="134" stroke="#fff" stroke-width="0.6" stroke-opacity="0.3"/>
<line x1="201.3" y1="202.25" x2="201.3" y2="234.4" stroke="#00ff00" stroke-width="0.9" stroke-opacity="1.0"/>
<line x1="202.6" y1="202.3" x2="202.6" y2="226" stroke="#00ff00" stroke-width="0.6" stroke-opacity="0.5"/>
<line x1="203.9" y1="202.36" x2="203.9" y2="234.4" stroke="#00ff00" stroke-width="0.9" stroke-opacity="1.0"/>
<line x1="205.3" y1="202.41" x2="205.3" y2="222" stroke="#00ff00" stroke-width="0.7" stroke-opacity="0.6"/>
<line x1="207" y1="202.48" x2="207" y2="217" stroke="#00ff00" stroke-width="0.7" stroke-opacity="0.8"/>
<line x1="208.6" y1="202.54" x2="208.6" y2="210" stroke="#00ff00" stroke-width="0.7" stroke-opacity="0.6"/>
<line x1="178" y1="201.77" x2="178" y2="197.5" stroke="#00ff00" stroke-width="0.8"/>
<line x1="181" y1="201.81" x2="181" y2="196" stroke="#00ff00" stroke-width="0.8"/>
</g>
<line x1="253.9" y1="209.38" x2="253.9" y2="202" stroke="#00ff00" stroke-width="0.9"/>
<line x1="257.7" y1="210.01" x2="257.7" y2="202.8" stroke="#00ff00" stroke-width="0.9"/>
<line x1="292.5" y1="212.95" x2="292.5" y2="205.2" stroke="#00ff00" stroke-width="0.9"/>
<line x1="304.5" y1="213.4" x2="304.5" y2="202.2" stroke="#00ff00" stroke-width="0.9"/>
<line x1="310.1" y1="213.6" x2="310.1" y2="204" stroke="#00ff00" stroke-width="0.9"/>
<line x1="317.6" y1="213.88" x2="317.6" y2="203.8" stroke="#00ff00" stroke-width="0.9"/>
<line x1="321.1" y1="214.01" x2="321.1" y2="205.2" stroke="#00ff00" stroke-width="0.9"/>
<line x1="251.5" y1="207.77" x2="251.5" y2="206.2" stroke="#ff0000" stroke-width="0.8"/>
<line x1="262" y1="209.39" x2="262" y2="207.8" stroke="#ff0000" stroke-width="0.8"/>
<line x1="270.5" y1="210.25" x2="270.5" y2="209.2" stroke="#ff0000" stroke-width="0.8"/>
<line x1="300.5" y1="211.95" x2="300.5" y2="210.6" stroke="#ff0000" stroke-width="0.8"/>
<line x1="297" y1="211.82" x2="297" y2="210.8" stroke="#ff0000" stroke-width="0.7"/>
<g id="trace_b">
<path d="M41.3,205.65 41.55,205.6 41.8,205.56 42.05,205.51 42.3,205.47 42.55,205.42 42.8,205.38 43.05,205.33 43.3,205.29 43.55,205.24 43.8,205.2 44.05,205.15 44.3,205.1 44.55,205.06 44.8,205.01 45.05,204.97 45.3,204.92 45.55,204.88 45.8,204.83 46.05,204.79 46.3,204.74 46.55,204.7 46.8,204.65 47.05,204.6 47.3,204.56 47.55,204.51 47.8,204.47 48.05,204.42 48.3,204.38 48.55,204.33 48.8,204.29 49.05,204.24 49.3,204.2 49.55,204.15 49.8,204.1 50.05,204.06 50.3,204.01 50.55,203.97 50.8,203.92 51.05,203.88 51.3,203.83 51.55,203.79 51.8,203.74 52.05,203.7 52.3,203.65 52.55,203.6 52.8,203.56 53.05,203.51 53.3,203.47 53.55,203.42 53.8,203.38 54.05,203.33 54.3,203.29 54.55,203.24 54.8,203.2 55.05,203.15 55.3,203.1 55.55,203.06 55.8,203.01 56.05,202.97 56.3,202.92 56.55,202.88 56.8,202.83 57.05,202.79 57.3,202.74 57.55,202.7 57.8,202.65 58.05,202.6 58.3,202.56 58.55,202.51 58.8,202.47 59.05,202.42 59.3,202.38 59.55,202.33 59.8,202.29 60.05,202.24 60.3,202.18 60.55,202.13 60.8,202.07 61.05,202.01 61.3,201.96 61.55,201.9 61.8,201.84 62.05,201.79 62.3,201.73 62.55,201.67 62.8,201.62 63.05,201.56 63.3,201.5 63.55,201.45 63.8,201.39 64.05,201.33 64.3,201.28 64.55,201.22 64.8,201.16 65.05,201.11 65.3,201.05 65.55,200.99 65.8,200.94 66.05,200.88 66.3,200.82 66.55,200.77 66.8,200.71 67.05,200.65 67.3,200.6 67.55,200.54 67.8,200.48 68.05,200.43 68.3,200.37 68.55,200.31 68.8,200.26 69.05,200.2 69.3,200.14 69.55,200.09 69.8,200.03 70.05,199.97 70.3,199.92 70.55,199.86 70.8,199.8 71.05,199.75 71.3,199.69 71.55,199.63 71.8,199.58 72.05,199.52 72.3,199.46 72.55,199.41 72.8,199.35 73.05,199.29 73.3,199.24 73.55,199.18 73.8,199.12 74.05,199.07 74.3,199.01 74.55,198.95 74.8,198.9 75.05,198.84 75.3,198.82 75.55,198.79 75.8,198.77 76.05,198.74 76.3,198.71 76.55,198.69 76.8,198.66 77.05,198.64 77.3,198.61 77.55,198.58 77.8,198.56 78.05,198.53 78.3,198.5 78.55,198.48 78.8,198.45 79.05,198.43 79.3,198.4 79.55,198.37 79.8,198.35 80.05,198.32 80.3,198.3 80.55,198.27 80.8,198.24 81.05,198.22 81.3,198.19 81.55,198.16 81.8,198.14 82.05,198.11 82.3,198.09 82.55,198.06 82.8,198.03 83.05,198.01 83.3,197.98 83.55,197.96 83.8,197.96 84.05,197.98 84.3,198 84.55,198.02 84.8,198.04 85.05,198.05 85.3,198.07 85.55,198.09 85.8,198.11 86.05,198.12 86.3,198.14 86.55,198.16 86.8,198.18 87.05,198.2 87.3,198.21 87.55,198.23 87.8,198.25 88.05,198.27 88.3,198.29 88.55,198.3 88.8,198.32 89.05,198.34 89.3,198.36 89.55,198.38 89.8,198.39 90.05,198.41 90.3,198.43 90.55,198.45 90.8,198.46 91.05,198.48 91.3,198.5 91.55,198.52 91.8,198.54 92.05,198.56 92.3,198.61 92.55,198.65 92.8,198.7 93.05,198.74 93.3,198.79 93.55,198.83 93.8,198.88 94.05,198.93 94.3,198.97 94.55,199.02 94.8,199.06 95.05,199.11 95.3,199.16 95.55,199.2 95.8,199.25 96.05,199.29 96.3,199.34 96.55,199.38 96.8,199.43 97.05,199.48 97.3,199.52 97.55,199.57 97.8,199.61 98.05,199.66 98.3,199.69 98.55,199.71 98.8,199.74 99.05,199.77 99.3,199.8 99.55,199.83 99.8,199.86 100.05,199.89 100.3,199.92 100.55,199.95 100.8,199.98 101.05,200.01 101.3,200.03 101.55,200.06 101.8,200.09 102.05,200.12 102.3,200.15 102.55,200.18 102.8,200.21 103.05,200.24 103.3,200.27 103.55,200.3 103.8,200.33 104.05,200.36 104.3,200.39 104.55,200.41 104.8,200.44 105.05,200.47 105.3,200.5 105.55,200.53 105.8,200.56 106.05,200.59 106.3,200.62 106.55,200.65 106.8,200.68 107.05,200.71 107.3,200.74 107.55,200.76 107.8,200.79 108.05,200.82 108.3,200.85 108.55,200.88 108.8,200.91 109.05,200.94 109.3,200.97 109.55,201 109.8,201.03 110.05,201.05 110.3,201.07 110.55,201.09 110.8,201.11 111.05,201.12 111.3,201.14 111.55,201.16 111.8,201.18 112.05,201.19 112.3,201.21 112.55,201.23 112.8,201.25 113.05,201.26 113.3,201.28 113.55,201.3 113.8,201.32 114.05,201.33 114.3,201.35 114.55,201.37 114.8,201.39 115.05,201.4 115.3,201.42 115.55,201.44 115.8,201.46 116.05,201.47 116.3,201.49 116.55,201.51 116.8,201.53 117.05,201.54 117.3,201.56 117.55,201.58 117.8,201.6 118.05,201.61 118.3,201.63 118.55,201.65 118.8,201.67 119.05,201.68 119.3,201.7 119.55,201.72 119.8,201.74 120.05,201.75 120.3,201.74 120.55,201.74 120.8,201.73 121.05,201.73 121.3,201.72 121.55,201.72 121.8,201.71 122.05,201.71 122.3,201.7 122.55,201.7 122.8,201.69 123.05,201.69 123.3,201.68 123.55,201.68 123.8,201.67 124.05,201.67 124.3,201.66 124.55,201.66 124.8,201.65 125.05,201.65 125.3,201.64 125.55,201.64 125.8,201.63 126.05,201.63 126.3,201.62 126.55,201.62 126.8,201.61 127.05,201.61 127.3,201.6 127.55,201.6 127.8,201.59 128.05,201.59 128.3,201.58 128.55,201.58 128.8,201.57 129.05,201.57 129.3,201.56 129.55,201.56 129.8,201.55 130.05,201.55 130.3,201.54 130.55,201.54 130.8,201.53 131.05,201.53 131.3,201.52 131.55,201.52 131.8,201.51 132.05,201.51 132.3,201.5 132.55,201.5 132.8,201.49 133.05,201.49 133.3,201.48 133.55,201.48 133.8,201.47 134.05,201.47 134.3,201.46 134.55,201.46 134.8,201.45 135.05,201.45 135.3,201.44 135.55,201.43 135.8,201.42 136.05,201.41 136.3,201.41 136.55,201.4 136.8,201.39 137.05,201.38 137.3,201.37 137.55,201.36 137.8,201.36 138.05,201.35 138.3,201.34 138.55,201.33 138.8,201.32 139.05,201.31 139.3,201.31 139.55,201.3 139.8,201.29 140.05,201.28 140.3,201.27 140.55,201.26 140.8,201.26 141.05,201.25 141.3,201.24 141.55,201.23 141.8,201.22 142.05,201.21 142.3,201.21 142.55,201.2 142.8,201.19 143.05,201.18 143.3,201.17 143.55,201.16 143.8,201.16 144.05,201.15 144.3,201.14 144.55,201.13 144.8,201.12 145.05,201.11 145.3,201.11 145.55,201.1 145.8,201.09 146.05,201.08 146.3,201.07 146.55,201.06 146.8,201.06 147.05,201.05 147.3,201.04 147.55,201.03 147.8,201.02 148.05,201.01 148.3,201.01 148.55,201 148.8,200.99 149.05,200.98 149.3,200.97 149.55,200.96 149.8,200.96 150.05,200.95 150.3,200.95 150.55,200.96 150.8,200.96 151.05,200.96 151.3,200.97 151.55,200.97 151.8,200.97 152.05,200.98 152.3,200.98 152.55,200.98 152.8,200.99 153.05,200.99 153.3,200.99 153.55,201 153.8,201 154.05,201 154.3,201.01 154.55,201.01 154.8,201.01 155.05,201.02 155.3,201.02 155.55,201.02 155.8,201.03 156.05,201.03 156.3,201.03 156.55,201.04 156.8,201.04 157.05,201.04 157.3,201.05 157.55,201.05 157.8,201.05 158.05,201.06 158.3,201.06 158.55,201.06 158.8,201.07 159.05,201.07 159.3,201.07 159.55,201.08 159.8,201.08 160.05,201.08 160.3,201.09 160.55,201.09 160.8,201.09 161.05,201.1 161.3,201.1 161.55,201.1 161.8,201.11 162.05,201.11 162.3,201.11 162.55,201.12 162.8,201.12 163.05,201.12 163.3,201.13 163.55,201.13 163.8,201.13 164.05,201.14 164.3,201.14 164.55,201.14 164.8,201.15 165.05,201.15 165.3,201.15 165.55,201.16 165.8,201.16 166.05,201.16 166.3,201.17 166.55,201.17 166.8,201.17 167.05,201.18 167.3,201.18 167.55,201.18 167.8,201.19 168.05,201.19 168.3,201.19 168.55,201.2 168.8,201.2 169.05,201.2 169.3,201.21 169.55,201.21 169.8,201.21 170.05,201.22 170.3,201.22 170.55,201.22 170.8,201.23 171.05,201.23 171.3,201.23 171.55,201.24 171.8,201.24 172.05,201.24 172.3,201.25 172.55,201.25 172.8,201.25 173.05,201.26 173.3,201.26 173.55,201.26 173.8,201.27 174.05,201.27 174.3,201.27 174.55,201.28 174.8,201.28 175.05,201.28 175.3,201.29 175.55,201.29 175.8,201.29 176.05,201.3 176.3,201.3 176.55,201.3 176.8,201.31 177.05,201.31 177.3,201.31 177.55,201.32 177.8,201.32 178.05,201.32 178.3,201.33 178.55,201.33 178.8,201.33 179.05,201.34 179.3,201.34 179.55,201.34 179.8,201.35 180.05,201.35 180.3,201.35 180.55,201.36 180.8,201.36 181.05,201.36 181.3,201.37 181.55,201.37 181.8,201.37 182.05,201.38 182.3,201.38 182.55,201.38 182.8,201.39 183.05,201.39 183.3,201.39 183.55,201.4 183.8,201.4 184.05,201.4 184.3,201.41 184.55,201.41 184.8,201.41 185.05,201.42 185.3,201.42 185.55,201.42 185.8,201.43 186.05,201.43 186.3,201.43 186.55,201.44 186.8,201.44 187.05,201.44 187.3,201.45 187.55,201.45 187.8,201.45 188.05,201.46 188.3,201.46 188.55,201.46 188.8,201.47 189.05,201.47 189.3,201.47 189.55,201.48 189.8,201.48 190.05,201.48 190.3,201.49 190.55,201.49 190.8,201.49 191.05,201.5 191.3,201.5 191.55,201.5 191.8,201.51 192.05,201.51 192.3,201.51 192.55,201.52 192.8,201.52 193.05,201.52 193.3,201.53 193.55,201.53 193.8,201.53 194.05,201.54 194.3,201.54 194.55,201.54 194.8,201.55 195.05,201.55 195.3,201.56 195.55,201.57 195.8,201.58 196.05,201.59 196.3,201.6 196.55,201.61 196.8,201.62 197.05,201.63 197.3,201.64 197.55,201.65 197.8,201.66 198.05,201.67 198.3,201.68 198.55,201.69 198.8,201.7 199.05,201.71 199.3,201.72 199.55,201.67 199.8,201.63 200.05,201.57 200.3,201.54 200.55,201.38 200.8,201.22 201.05,200.83 201.3,200.64 201.55,200.4 201.8,201.65 202.05,201.5 202.3,201.36 202.55,197.67 202.8,197.12 203.05,196.58 203.3,201.88 203.55,201.89 203.8,201.9 204.05,197.6 204.3,197.19 204.55,196.78 204.8,194.79 205.05,194.27 205.3,193.75 205.55,194.03 205.8,193.09 206.05,181.45 206.3,181.8 206.55,180.06 206.8,178.32 207.05,172.61 207.3,170.36 207.55,168.1 207.8,178.97 208.05,177.52 208.3,176.07 208.55,157.2 208.8,153.2 209.05,149.2 209.3,145.2 209.55,141.75 209.8,140.5 210.05,139.25 210.3,21.8 210.55,21.8 210.8,21.8 211.05,21.8 211.3,21.8 211.55,21.8 211.8,21.8 212.05,21.8 212.3,18.1 212.55,18.1 212.8,18.1 213.05,18.1 213.3,18.1 213.55,18.1 213.8,18.1 214.05,18.1 214.3,18.1 214.55,18.1 214.8,18.1 215.05,18.1 215.3,23.3 215.55,23.3 215.8,23.3 216.05,23.3 216.3,23.3 216.55,23.3 216.8,23.3 217.05,23.3 217.3,23.3 217.55,23.3 217.8,28.5 218.05,28.5 218.3,28.5 218.55,28.5 218.8,28.5 219.05,28.5 219.3,28.5 219.55,32.2 219.8,32.2 220.05,32.2 220.3,32.2 220.55,32.2 220.8,32.2 221.05,32.2 221.3,100.25 221.55,108.38 221.8,114.29 222.05,119.64 222.3,125 222.55,127.88 222.8,130.77 223.05,133.65 223.3,136.54 223.55,139.42 223.8,141 224.05,142.25 224.3,143.5 224.55,144.75 224.8,146 225.05,147.25 225.3,148.5 225.55,149.75 225.8,151 226.05,152.19 226.3,153.11 226.55,154.04 226.8,154.96 227.05,155.89 227.3,156.81 227.55,157.74 227.8,158.67 228.05,160.26 228.3,161.17 228.55,162.08 228.8,162.84 229.05,164.22 229.3,165.6 229.55,166.83 229.8,168.21 230.05,169.6 230.3,178.12 230.55,179.16 230.8,179.95 231.05,175.43 231.3,176.39 231.55,177.35 231.8,193.88 232.05,194.26 232.3,194.56 232.55,179.79 232.8,180.5 233.05,181.21 233.3,191.43 233.55,191.86 233.8,192.28 234.05,185.79 234.3,186.44 234.55,187.09 234.8,186.03 235.05,186.67 235.3,187.01 235.55,193.53 235.8,193.76 236.05,194 236.3,192.1 236.55,192.37 236.8,192.64 237.05,189.93 237.3,190.26 237.55,190.65 237.8,191.97 238.05,192.57 238.3,193.18 238.55,192.93 238.8,193.58 239.05,194.23 239.3,194.84 239.55,195.49 239.8,195.84 240.05,198.01 240.3,198.25 240.55,198.49 240.8,198.53 241.05,198.77 241.3,199.01 241.55,197.93 241.8,198.21 242.05,198.49 242.3,199 242.55,199.27 242.8,199.54 243.05,203.79 243.3,203.93 243.55,204.07 243.8,200.77 244.05,201.01 244.3,201.17 244.55,201.74 244.8,201.89 245.05,202.04 245.3,201.46 245.55,201.62 245.8,201.78 246.05,201.87 246.3,202.04 246.55,202.2 246.8,203.51 247.05,203.65 247.3,203.79 247.55,203.03 247.8,203.19 248.05,203.36 248.3,204.82 248.55,204.95 248.8,205.07 249.05,204 249.3,204.16 249.55,204.32 249.8,204.67 250.05,204.82 250.3,204.95 250.55,205.64 250.8,205.75 251.05,205.86 251.3,206.08 251.55,206.19 251.8,206.3 252.05,205.82 252.3,205.95 252.55,206.08 252.8,206.8 253.05,206.9 253.3,206.96 253.55,206.84 253.8,206.96 254.05,207 254.3,207.15 254.55,207.19 254.8,207.23 255.05,206.94 255.3,206.98 255.55,207.02 255.8,207.55 256.05,207.59 256.3,207.63 256.55,207.57 256.8,207.61 257.05,207.65 257.3,207.28 257.55,207.32 257.8,207.36 258.05,207.58 258.3,207.62 258.55,207.66 258.8,207.4 259.05,207.44 259.3,207.48 259.55,208.08 259.8,208.12 260.05,208.16 260.3,208.25 260.55,208.29 260.8,208.32 261.05,208.1 261.3,208.14 261.55,208.18 261.8,208.11 262.05,208.14 262.3,208.18 262.55,208.53 262.8,208.57 263.05,208.61 263.3,208.34 263.55,208.38 263.8,208.42 264.05,208.24 264.3,208.26 264.55,208.28 264.8,208.73 265.05,208.75 265.3,208.77 265.55,208.62 265.8,208.64 266.05,208.66 266.3,209.09 266.55,209.11 266.8,209.13 267.05,208.82 267.3,208.84 267.55,208.86 267.8,208.6 268.05,208.62 268.3,208.64 268.55,209.13 268.8,209.15 269.05,209.17 269.3,209.32 269.55,209.34 269.8,209.36 270.05,208.79 270.3,208.82 270.55,208.84 270.8,209 271.05,209.02 271.3,209.04 271.55,209.18 271.8,209.2 272.05,209.22 272.3,209.39 272.55,209.41 272.8,209.44 273.05,209.45 273.3,209.48 273.55,209.5 273.8,209.46 274.05,209.48 274.3,209.5 274.55,209.69 274.8,209.71 275.05,209.74 275.3,209.67 275.55,209.69 275.8,209.71 276.05,209.23 276.3,209.25 276.55,209.27 276.8,209.96 277.05,209.98 277.3,210 277.55,209.92 277.8,209.94 278.05,209.96 278.3,209.88 278.55,209.9 278.8,209.92 279.05,210.02 279.3,210.04 279.55,210.06 279.8,210.11 280.05,210.13 280.3,210.15 280.55,209.63 280.8,209.65 281.05,209.67 281.3,210.1 281.55,210.12 281.8,210.14 282.05,209.82 282.3,209.84 282.55,209.86 282.8,209.96 283.05,209.98 283.3,209.99 283.55,210.39 283.8,210.4 284.05,210.41 284.3,210.23 284.55,210.24 284.8,210.25 285.05,210.09 285.3,210.1 285.55,210.1 285.8,210.04 286.05,210.05 286.3,210.06 286.55,210.27 286.8,210.28 287.05,210.28 287.3,210.03 287.55,210.04 287.8,210.05 288.05,210.26 288.3,210.27 288.55,210.27 288.8,210.62 289.05,210.62 289.3,210.63 289.55,210.3 289.8,210.31 290.05,210.32 290.3,210.43 290.55,210.44 290.8,210.45 291.05,210.76 291.3,210.77 291.55,210.78 291.8,210.38 292.05,210.39 292.3,210.4 292.55,210.35 292.8,210.36 293.05,210.37 293.3,210.47 293.55,210.48 293.8,210.49 294.05,210.48 294.3,210.49 294.55,210.5 294.8,210.91 295.05,210.92 295.3,210.93 295.55,210.27 295.8,210.28 296.05,210.29 296.3,210.4 296.55,210.41 296.8,210.42 297.05,210.87 297.3,210.88 297.55,210.89 297.8,210.35 298.05,210.36 298.3,210.37 298.55,210.68 298.8,210.69 299.05,210.7 299.3,210.89 299.55,210.9 299.8,210.91 300.05,210.47 300.3,210.48 300.55,210.49 300.8,210.68 301.05,210.69 301.3,210.7 301.55,210.68 301.8,210.69 302.05,210.7 302.3,210.87 302.55,210.88 302.8,210.89 303.05,210.98 303.3,210.99 303.55,211 303.8,211.1 304.05,211.11 304.3,211.12 304.55,210.67 304.8,210.68 305.05,210.68 305.3,210.8 305.55,210.81 305.8,210.81 306.05,211.18 306.3,211.19 306.55,211.2 306.8,211.29 307.05,211.3 307.3,211.31 307.55,210.94 307.8,210.95 308.05,210.95 308.3,210.78 308.55,210.79 308.8,210.8 309.05,210.86 309.3,210.87 309.55,210.88 309.8,211.35 310.05,211.36 310.3,211.37 310.55,210.91 310.8,210.92 311.05,210.93 311.3,211 311.55,211.01 311.8,211.02 312.05,211.01 312.3,211.02 312.55,211.03 312.8,211.19 313.05,211.2 313.3,211.21 313.55,211.38 313.8,211.39 314.05,211.4 314.3,211.06 314.55,211.06 314.8,211.07 315.05,211.32 315.3,211.33 315.55,211.34 315.8,211.66 316.05,211.67 316.3,211.68 316.55,211.39 316.8,211.4 317.05,211.41 317.3,211.41 317.55,211.42 317.8,211.43 318.05,211.61 318.3,211.62 318.55,211.63 318.8,211.52 319.05,211.52 319.3,211.53 319.55,211.46 319.8,211.47 320.05,211.48 320.3,211.77 320.55,211.78 320.8,211.79 321.05,211.31 321.3,211.32 321.55,211.33 321.8,211.38 322.05,211.39 322.3,211.4 322.55,211.96 322.8,211.97 323.05,211.98 323.3,211.48 323.55,211.49 323.8,211.5 324.05,211.37 324.3,211.38 324.55,211.39 324.8,211.46 325.05,211.47 325.3,211.48 325.55,212.04 325.8,212.05 326.05,212.06 326.3,211.53 326.55,211.54 326.8,211.55 327.05,211.8 327.3,211.81 327.55,211.82 327.8,211.97 328.05,211.98 328.3,211.99 328.55,211.51 328.8,211.51 329.05,211.52 329.3,211.71 329.55,211.72 329.8,211.73 330.05,212.06 330.3,212.07 330.55,212.08 330.8,211.76 331.05,211.77 331.3,211.78 331.55,211.85 L331.55,214.71 331.3,214.75 331.05,214.74 330.8,214.73 330.55,215.09 330.3,215.08 330.05,215.07 329.8,214.81 329.55,214.8 329.3,214.79 329.05,214.98 328.8,214.97 328.55,214.96 328.3,214.87 328.05,214.86 327.8,214.85 327.55,214.52 327.3,214.52 327.05,214.51 326.8,214.49 326.55,214.48 326.3,214.47 326.05,214.62 325.8,214.61 325.55,214.6 325.3,214.93 325.05,214.92 324.8,214.91 324.55,214.83 324.3,214.82 324.05,214.81 323.8,214.66 323.55,214.65 323.3,214.64 323.05,214.87 322.8,214.86 322.55,214.85 322.3,214.45 322.05,214.44 321.8,214.43 321.55,214.39 321.3,214.38 321.05,214.37 320.8,214.33 320.55,214.32 320.3,214.31 320.05,214.27 319.8,214.26 319.55,214.26 319.3,214.22 319.05,214.22 318.8,214.21 318.55,214.64 318.3,214.63 318.05,214.62 317.8,214.32 317.55,214.31 317.3,214.3 317.05,214.44 316.8,214.43 316.55,214.42 316.3,214.21 316.05,214.2 315.8,214.19 315.55,214.59 315.3,214.58 315.05,214.57 314.8,214.2 314.55,214.19 314.3,214.18 314.05,214.45 313.8,214.44 313.55,214.43 313.3,214.12 313.05,214.11 312.8,214.11 312.55,214.23 312.3,214.22 312.05,214.21 311.8,214.21 311.55,214.2 311.3,214.19 311.05,214.11 310.8,214.1 310.55,214.09 310.3,214.1 310.05,214.09 309.8,214.08 309.55,214.19 309.3,214.18 309.05,214.17 308.8,214.04 308.55,214.03 308.3,214.02 308.05,214.24 307.8,214.23 307.55,214.22 307.3,213.82 307.05,213.81 306.8,213.8 306.55,214.21 306.3,214.2 306.05,214.19 305.8,214.22 305.55,214.21 305.3,214.2 305.05,213.7 304.8,213.7 304.55,213.69 304.3,214.04 304.05,214.03 303.8,214.02 303.55,213.75 303.3,213.74 303.05,213.73 302.8,214.01 302.55,214 302.3,213.99 302.05,213.64 301.8,213.64 301.55,213.63 301.3,213.95 301.05,213.94 300.8,213.93 300.55,213.71 300.3,213.7 300.05,213.7 299.8,213.65 299.55,213.64 299.3,213.63 299.05,213.5 298.8,213.49 298.55,213.48 298.3,213.77 298.05,213.76 297.8,213.75 297.55,213.78 297.3,213.77 297.05,213.76 296.8,213.87 296.55,213.86 296.3,213.85 296.05,213.52 295.8,213.51 295.55,213.51 295.3,213.58 295.05,213.57 294.8,213.56 294.55,213.65 294.3,213.64 294.05,213.63 293.8,213.35 293.55,213.34 293.3,213.33 293.05,213.5 292.8,213.49 292.55,213.48 292.3,213.69 292.05,213.68 291.8,213.67 291.55,213.4 291.3,213.39 291.05,213.39 290.8,213.55 290.55,213.54 290.3,213.54 290.05,213.13 289.8,213.12 289.55,213.11 289.3,213.16 289.05,213.15 288.8,213.14 288.55,213.15 288.3,213.14 288.05,213.13 287.8,213.4 287.55,213.39 287.3,213.39 287.05,213.34 286.8,213.33 286.55,213.33 286.3,213.06 286.05,213.05 285.8,213.04 285.55,213.42 285.3,213.41 285.05,213.4 284.8,213.45 284.55,213.44 284.3,213.43 284.05,212.91 283.8,212.9 283.55,212.89 283.3,213 283.05,212.99 282.8,212.98 282.55,213.31 282.3,213.29 282.05,213.27 281.8,212.88 281.55,212.86 281.3,212.84 281.05,212.94 280.8,212.92 280.55,212.89 280.3,212.73 280.05,212.71 279.8,212.69 279.55,212.96 279.3,212.94 279.05,212.92 278.8,213.04 278.55,213.02 278.3,213 278.05,212.87 277.8,212.85 277.55,212.83 277.3,212.65 277.05,212.63 276.8,212.61 276.55,212.41 276.3,212.39 276.05,212.37 275.8,212.31 275.55,212.28 275.3,212.26 275.05,212.49 274.8,212.47 274.55,212.45 274.3,212.22 274.05,212.2 273.8,212.17 273.55,212.48 273.3,212.46 273.05,212.43 272.8,212.3 272.55,212.28 272.3,212.26 272.05,212.27 271.8,212.25 271.55,212.23 271.3,212.11 271.05,212.09 270.8,212.07 270.55,212.12 270.3,212.1 270.05,212.08 269.8,212.09 269.55,212.07 269.3,212.04 269.05,211.7 268.8,211.68 268.55,211.66 268.3,211.67 268.05,211.65 267.8,211.63 267.55,211.86 267.3,211.84 267.05,211.82 266.8,211.69 266.55,211.67 266.3,211.65 266.05,211.54 265.8,211.52 265.55,211.49 265.3,211.89 265.05,211.87 264.8,211.85 264.55,211.72 264.3,211.7 264.05,211.68 263.8,211.24 263.55,211.2 263.3,211.16 263.05,211.25 262.8,211.21 262.55,211.17 262.3,211.26 262.05,211.22 261.8,211.18 261.55,211.27 261.3,211.23 261.05,211.19 260.8,210.77 260.55,210.73 260.3,210.69 260.05,210.88 259.8,210.84 259.55,210.8 259.3,210.72 259.05,210.68 258.8,210.64 258.55,210.55 258.3,210.51 258.05,210.47 257.8,210.53 257.55,210.49 257.3,210.45 257.05,210.62 256.8,210.58 256.55,210.54 256.3,210.15 256.05,210.11 255.8,210.07 255.55,210.41 255.3,210.37 255.05,210.33 254.8,210.11 254.55,210.07 254.3,210.03 254.05,209.82 253.8,209.78 253.55,209.74 253.3,209.88 253.05,209.84 252.8,209.8 252.55,209.59 252.3,209.55 252.05,209.51 251.8,209.6 251.55,209.56 251.3,209.52 251.05,209.36 250.8,209.32 250.55,209.28 250.3,209.23 250.05,209.19 249.8,209.12 249.55,209.1 249.3,209.04 249.05,208.97 248.8,208.89 248.55,208.82 248.3,208.75 248.05,208.84 247.8,208.77 247.55,208.71 247.3,208.7 247.05,208.63 246.8,208.56 246.55,208.18 246.3,208.12 246.05,208.06 245.8,208.09 245.55,208.03 245.3,207.97 245.05,208.03 244.8,207.97 244.55,207.91 244.3,207.99 244.05,207.93 243.8,207.86 243.55,207.82 243.3,207.75 243.05,207.68 242.8,207.51 242.55,207.44 242.3,207.38 242.05,207.16 241.8,207.1 241.55,207.04 241.3,207.09 241.05,207.02 240.8,206.96 240.55,206.76 240.3,206.7 240.05,206.64 239.8,206.82 239.55,206.77 239.3,206.73 239.05,206.67 238.8,206.63 238.55,206.58 238.3,206.38 238.05,206.34 237.8,206.31 237.55,206.27 237.3,206.23 237.05,206.19 236.8,206.27 236.55,206.23 236.3,206.19 236.05,206.15 235.8,206.11 235.55,206.07 235.3,205.97 235.05,205.93 234.8,205.89 234.55,205.9 234.3,205.86 234.05,205.81 233.8,205.76 233.55,205.72 233.3,205.68 233.05,205.63 232.8,205.59 232.55,205.56 232.3,205.53 232.05,205.49 231.8,205.44 231.55,205.4 231.3,205.35 231.05,205.31 230.8,205.27 230.55,205.22 230.3,205.18 230.05,205.14 229.8,205.09 229.55,205.05 229.3,205 229.05,204.96 228.8,204.92 228.55,204.87 228.3,204.83 228.05,204.78 227.8,204.74 227.55,204.7 227.3,204.65 227.05,204.61 226.8,204.57 226.55,204.52 226.3,204.48 226.05,204.43 225.8,204.39 225.55,204.35 225.3,204.3 225.05,204.26 224.8,204.24 224.55,204.23 224.3,204.22 224.05,204.21 223.8,204.2 223.55,204.19 223.3,204.18 223.05,204.17 222.8,204.16 222.55,204.15 222.3,204.14 222.05,204.13 221.8,204.12 221.55,204.11 221.3,204.1 221.05,204.09 220.8,204.08 220.55,204.07 220.3,204.06 220.05,204.05 219.8,204.04 219.55,204.03 219.3,193.33 219.05,157.47 218.8,152.63 218.55,147.78 218.3,142.94 218.05,139.73 217.8,137.6 217.55,135.48 217.3,133.35 217.05,133.09 216.8,134.08 216.55,135.07 216.3,136.06 216.05,137.05 215.8,138.04 215.55,139.03 215.3,140.02 215.05,141.01 214.8,142 214.55,143.83 214.3,145.66 214.05,147.49 213.8,149.32 213.55,151.15 213.3,152.98 213.05,154.8 212.8,156.63 212.55,158.46 212.3,160.29 212.05,162.12 211.8,163.95 211.55,165.78 211.3,167.61 211.05,169.44 210.8,171.27 210.55,173.26 210.3,175.37 210.05,177.47 209.8,179.58 209.55,181.68 209.3,183.79 209.05,185.89 208.8,188 208.55,189.3 208.3,190.61 208.05,191.91 207.8,193.22 207.55,194.52 207.3,195.83 207.05,197.13 206.8,198.43 206.55,199.74 206.3,200.8 206.05,201.8 205.8,203.48 205.55,203.47 205.3,203.46 205.05,203.45 204.8,203.44 204.55,203.43 204.3,203.42 204.05,203.41 203.8,203.4 203.55,203.39 203.3,203.38 203.05,203.37 202.8,203.36 202.55,203.35 202.3,203.34 202.05,203.33 201.8,203.32 201.55,203.31 201.3,203.3 201.05,203.29 200.8,203.28 200.55,203.27 200.3,203.26 200.05,203.25 199.8,203.24 199.55,203.23 199.3,203.22 199.05,203.21 198.8,203.2 198.55,203.19 198.3,203.18 198.05,203.17 197.8,203.16 197.55,203.15 197.3,203.14 197.05,203.13 196.8,203.12 196.55,203.11 196.3,203.1 196.05,203.09 195.8,203.08 195.55,203.07 195.3,203.06 195.05,203.05 194.8,203.05 194.55,203.04 194.3,203.04 194.05,203.04 193.8,203.03 193.55,203.03 193.3,203.03 193.05,203.02 192.8,203.02 192.55,203.02 192.3,203.01 192.05,203.01 191.8,203.01 191.55,203 191.3,203 191.05,203 190.8,202.99 190.55,202.99 190.3,202.99 190.05,202.98 189.8,202.98 189.55,202.98 189.3,202.97 189.05,202.97 188.8,202.97 188.55,202.96 188.3,202.96 188.05,202.96 187.8,202.95 187.55,202.95 187.3,202.95 187.05,202.94 186.8,202.94 186.55,202.94 186.3,202.93 186.05,202.93 185.8,202.93 185.55,202.92 185.3,202.92 185.05,202.92 184.8,202.91 184.55,202.91 184.3,202.91 184.05,202.9 183.8,202.9 183.55,202.9 183.3,202.89 183.05,202.89 182.8,202.89 182.55,202.88 182.3,202.88 182.05,202.88 181.8,202.87 181.55,202.87 181.3,202.87 181.05,202.86 180.8,202.86 180.55,202.86 180.3,202.85 180.05,202.85 179.8,202.85 179.55,202.84 179.3,202.84 179.05,202.84 178.8,202.83 178.55,202.83 178.3,202.83 178.05,202.82 177.8,202.82 177.55,202.82 177.3,202.81 177.05,202.81 176.8,202.81 176.55,202.8 176.3,202.8 176.05,202.8 175.8,202.79 175.55,202.79 175.3,202.79 175.05,202.78 174.8,202.78 174.55,202.78 174.3,202.77 174.05,202.77 173.8,202.77 173.55,202.76 173.3,202.76 173.05,202.76 172.8,202.75 172.55,202.75 172.3,202.75 172.05,202.74 171.8,202.74 171.55,202.74 171.3,202.73 171.05,202.73 170.8,202.73 170.55,202.72 170.3,202.72 170.05,202.72 169.8,202.71 169.55,202.71 169.3,202.71 169.05,202.7 168.8,202.7 168.55,202.7 168.3,202.69 168.05,202.69 167.8,202.69 167.55,202.68 167.3,202.68 167.05,202.68 166.8,202.67 166.55,202.67 166.3,202.67 166.05,202.66 165.8,202.66 165.55,202.66 165.3,202.65 165.05,202.65 164.8,202.65 164.55,202.64 164.3,202.64 164.05,202.64 163.8,202.63 163.55,202.63 163.3,202.63 163.05,202.62 162.8,202.62 162.55,202.62 162.3,202.61 162.05,202.61 161.8,202.61 161.55,202.6 161.3,202.6 161.05,202.6 160.8,202.59 160.55,202.59 160.3,202.59 160.05,202.58 159.8,202.58 159.55,202.58 159.3,202.57 159.05,202.57 158.8,202.57 158.55,202.56 158.3,202.56 158.05,202.56 157.8,202.55 157.55,202.55 157.3,202.55 157.05,202.54 156.8,202.54 156.55,202.54 156.3,202.53 156.05,202.53 155.8,202.53 155.55,202.52 155.3,202.52 155.05,202.52 154.8,202.51 154.55,202.51 154.3,202.51 154.05,202.5 153.8,202.5 153.55,202.5 153.3,202.49 153.05,202.49 152.8,202.49 152.55,202.48 152.3,202.48 152.05,202.48 151.8,202.47 151.55,202.47 151.3,202.47 151.05,202.46 150.8,202.46 150.55,202.46 150.3,202.45 150.05,202.45 149.8,202.46 149.55,202.46 149.3,202.47 149.05,202.48 148.8,202.49 148.55,202.5 148.3,202.51 148.05,202.51 147.8,202.52 147.55,202.53 147.3,202.54 147.05,202.55 146.8,202.56 146.55,202.56 146.3,202.57 146.05,202.58 145.8,202.59 145.55,202.6 145.3,202.61 145.05,202.61 144.8,202.62 144.55,202.63 144.3,202.64 144.05,202.65 143.8,202.66 143.55,202.66 143.3,202.67 143.05,202.68 142.8,202.69 142.55,202.7 142.3,202.71 142.05,202.71 141.8,202.72 141.55,202.73 141.3,202.74 141.05,202.75 140.8,202.76 140.55,202.76 140.3,202.77 140.05,202.78 139.8,202.79 139.55,202.8 139.3,202.81 139.05,202.81 138.8,202.82 138.55,202.83 138.3,202.84 138.05,202.85 137.8,202.86 137.55,202.86 137.3,202.87 137.05,202.88 136.8,202.89 136.55,202.9 136.3,202.91 136.05,202.91 135.8,202.92 135.55,202.93 135.3,202.94 135.05,202.95 134.8,202.95 134.55,202.96 134.3,202.96 134.05,202.97 133.8,202.97 133.55,202.98 133.3,202.98 133.05,202.99 132.8,202.99 132.55,203 132.3,203 132.05,203.01 131.8,203.01 131.55,203.02 131.3,203.02 131.05,203.03 130.8,203.03 130.55,203.04 130.3,203.04 130.05,203.05 129.8,203.05 129.55,203.06 129.3,203.06 129.05,203.07 128.8,203.07 128.55,203.08 128.3,203.08 128.05,203.09 127.8,203.09 127.55,203.1 127.3,203.1 127.05,203.11 126.8,203.11 126.55,203.12 126.3,203.12 126.05,203.13 125.8,203.13 125.55,203.14 125.3,203.14 125.05,203.15 124.8,203.15 124.55,203.16 124.3,203.16 124.05,203.17 123.8,203.17 123.55,203.18 123.3,203.18 123.05,203.19 122.8,203.19 122.55,203.2 122.3,203.2 122.05,203.21 121.8,203.21 121.55,203.22 121.3,203.22 121.05,203.23 120.8,203.23 120.55,203.24 120.3,203.24 120.05,203.25 119.8,203.24 119.55,203.22 119.3,203.2 119.05,203.18 118.8,203.17 118.55,203.15 118.3,203.13 118.05,203.11 117.8,203.1 117.55,203.08 117.3,203.06 117.05,203.04 116.8,203.03 116.55,203.01 116.3,202.99 116.05,202.97 115.8,202.96 115.55,202.94 115.3,202.92 115.05,202.9 114.8,202.89 114.55,202.87 114.3,202.85 114.05,202.83 113.8,202.82 113.55,202.8 113.3,202.78 113.05,202.76 112.8,202.75 112.55,202.73 112.3,202.71 112.05,202.69 111.8,202.68 111.55,202.66 111.3,202.64 111.05,202.62 110.8,202.61 110.55,202.59 110.3,202.57 110.05,202.55 109.8,202.53 109.55,202.5 109.3,202.47 109.05,202.44 108.8,202.41 108.55,202.38 108.3,202.35 108.05,202.32 107.8,202.29 107.55,202.26 107.3,202.24 107.05,202.21 106.8,202.18 106.55,202.15 106.3,202.12 106.05,202.09 105.8,202.06 105.55,202.03 105.3,202 105.05,201.97 104.8,201.94 104.55,201.91 104.3,201.89 104.05,201.86 103.8,201.83 103.55,201.8 103.3,201.77 103.05,201.74 102.8,201.71 102.55,201.68 102.3,201.65 102.05,201.62 101.8,201.59 101.55,201.56 101.3,201.53 101.05,201.51 100.8,201.48 100.55,201.45 100.3,201.42 100.05,201.39 99.8,201.36 99.55,201.33 99.3,201.3 99.05,201.27 98.8,201.24 98.55,201.21 98.3,201.19 98.05,201.16 97.8,201.11 97.55,201.07 97.3,201.02 97.05,200.98 96.8,200.93 96.55,200.88 96.3,200.84 96.05,200.79 95.8,200.75 95.55,200.7 95.3,200.66 95.05,200.61 94.8,200.56 94.55,200.52 94.3,200.47 94.05,200.43 93.8,200.38 93.55,200.33 93.3,200.29 93.05,200.24 92.8,200.2 92.55,200.15 92.3,200.11 92.05,200.06 91.8,200.04 91.55,200.02 91.3,200 91.05,199.98 90.8,199.96 90.55,199.95 90.3,199.93 90.05,199.91 89.8,199.89 89.55,199.88 89.3,199.86 89.05,199.84 88.8,199.82 88.55,199.8 88.3,199.79 88.05,199.77 87.8,199.75 87.55,199.73 87.3,199.71 87.05,199.7 86.8,199.68 86.55,199.66 86.3,199.64 86.05,199.62 85.8,199.61 85.55,199.59 85.3,199.57 85.05,199.55 84.8,199.54 84.55,199.52 84.3,199.5 84.05,199.48 83.8,199.46 83.55,199.46 83.3,199.48 83.05,199.51 82.8,199.53 82.55,199.56 82.3,199.59 82.05,199.61 81.8,199.64 81.55,199.66 81.3,199.69 81.05,199.72 80.8,199.74 80.55,199.77 80.3,199.8 80.05,199.82 79.8,199.85 79.55,199.87 79.3,199.9 79.05,199.93 78.8,199.95 78.55,199.98 78.3,200 78.05,200.03 77.8,200.06 77.55,200.08 77.3,200.11 77.05,200.14 76.8,200.16 76.55,200.19 76.3,200.21 76.05,200.24 75.8,200.27 75.55,200.29 75.3,200.32 75.05,200.34 74.8,200.4 74.55,200.45 74.3,200.51 74.05,200.57 73.8,200.62 73.55,200.68 73.3,200.74 73.05,200.79 72.8,200.85 72.55,200.91 72.3,200.96 72.05,201.02 71.8,201.08 71.55,201.13 71.3,201.19 71.05,201.25 70.8,201.3 70.55,201.36 70.3,201.42 70.05,201.47 69.8,201.53 69.55,201.59 69.3,201.64 69.05,201.7 68.8,201.76 68.55,201.81 68.3,201.87 68.05,201.93 67.8,201.98 67.55,202.04 67.3,202.1 67.05,202.15 66.8,202.21 66.55,202.27 66.3,202.32 66.05,202.38 65.8,202.44 65.55,202.49 65.3,202.55 65.05,202.61 64.8,202.66 64.55,202.72 64.3,202.78 64.05,202.83 63.8,202.89 63.55,202.95 63.3,203 63.05,203.06 62.8,203.12 62.55,203.17 62.3,203.23 62.05,203.29 61.8,203.34 61.55,203.4 61.3,203.46 61.05,203.51 60.8,203.57 60.55,203.63 60.3,203.68 60.05,203.74 59.8,203.79 59.55,203.83 59.3,203.88 59.05,203.92 58.8,203.97 58.55,204.01 58.3,204.06 58.05,204.1 57.8,204.15 57.55,204.2 57.3,204.24 57.05,204.29 56.8,204.33 56.55,204.38 56.3,204.42 56.05,204.47 55.8,204.51 55.55,204.56 55.3,204.6 55.05,204.65 54.8,204.7 54.55,204.74 54.3,204.79 54.05,204.83 53.8,204.88 53.55,204.92 53.3,204.97 53.05,205.01 52.8,205.06 52.55,205.1 52.3,205.15 52.05,205.2 51.8,205.24 51.55,205.29 51.3,205.33 51.05,205.38 50.8,205.42 50.55,205.47 50.3,205.51 50.05,205.56 49.8,205.6 49.55,205.65 49.3,205.7 49.05,205.74 48.8,205.79 48.55,205.83 48.3,205.88 48.05,205.92 47.8,205.97 47.55,206.01 47.3,206.06 47.05,206.1 46.8,206.15 46.55,206.2 46.3,206.24 46.05,206.29 45.8,206.33 45.55,206.38 45.3,206.42 45.05,206.47 44.8,206.51 44.55,206.56 44.3,206.6 44.05,206.65 43.8,206.7 43.55,206.74 43.3,206.79 43.05,206.83 42.8,206.88 42.55,206.92 42.3,206.97 42.05,207.01 41.8,207.06 41.55,207.1 41.3,207.15Z" fill="url(#grad_b)"/>
<g stroke="#0000ff"><line x1="211.2" y1="21.8" x2="211.2" y2="112" stroke-width="1" stroke-opacity="0.2"/><line x1="213.8" y1="18.3" x2="213.8" y2="112" stroke-width="1" stroke-opacity="0.75"/><line x1="217" y1="22.9" x2="217" y2="112" stroke-width="1" stroke-opacity="0.65"/><line x1="218.8" y1="27.6" x2="218.8" y2="112" stroke-width="1" stroke-opacity="0.65"/><line x1="220.5" y1="32.3" x2="220.5" y2="112" stroke-width="1" stroke-opacity="0.3"/></g>
<line x1="222.2" y1="97" x2="222.2" y2="135" stroke="#0000ff" stroke-width="1.1" stroke-opacity="0.45"/>
<line x1="223.4" y1="98" x2="223.4" y2="145" stroke="#0000ff" stroke-width="1.1" stroke-opacity="0.45"/>
<line x1="214.5" y1="100" x2="211.2" y2="130" stroke="#fff" stroke-width="0.6" stroke-opacity="0.3"/>
<line x1="216.8" y1="104" x2="211" y2="148" stroke="#fff" stroke-width="0.6" stroke-opacity="0.3"/>
<line x1="218.3" y1="108" x2="215" y2="136" stroke="#fff" stroke-width="0.6" stroke-opacity="0.3"/>
<line x1="219.9" y1="203.3" x2="219.9" y2="234.4" stroke="#0000ff" stroke-width="1.1" stroke-opacity="1.0"/>
<line x1="220.9" y1="203.34" x2="220.9" y2="234.4" stroke="#0000ff" stroke-width="1.1" stroke-opacity="1.0"/>
<line x1="221.9" y1="203.38" x2="221.9" y2="234.4" stroke="#0000ff" stroke-width="1.1" stroke-opacity="1.0"/>
<line x1="222.9" y1="203.42" x2="222.9" y2="234.4" stroke="#0000ff" stroke-width="1" stroke-opacity="1.0"/>
<line x1="224.3" y1="203.47" x2="224.3" y2="213" stroke="#0000ff" stroke-width="0.7" stroke-opacity="0.8"/>
<line x1="226.2" y1="203.66" x2="226.2" y2="211" stroke="#0000ff" stroke-width="0.8" stroke-opacity="0.9"/>
<line x1="227.6" y1="203.85" x2="227.6" y2="209" stroke="#0000ff" stroke-width="0.6" stroke-opacity="0.6"/>
</g>
<line x1="267" y1="210.25" x2="267" y2="200.7" stroke="#0000ff" stroke-width="1"/>
<line x1="280.2" y1="211.36" x2="280.2" y2="201.1" stroke="#0000ff" stroke-width="1"/>
<line x1="260.7" y1="209.48" x2="260.7" y2="204.5" stroke="#0000ff" stroke-width="0.8"/>
<line x1="263.5" y1="209.92" x2="263.5" y2="204.2" stroke="#0000ff" stroke-width="0.8"/>
<line x1="246" y1="206.88" x2="246" y2="199.5" stroke="#0000ff" stroke-width="0.9"/>
<line x1="248.5" y1="207.46" x2="248.5" y2="202" stroke="#0000ff" stroke-width="0.8"/>
<line x1="243" y1="206.19" x2="243" y2="196" stroke="#0000ff" stroke-width="0.9"/>
<line x1="252.5" y1="208.19" x2="252.5" y2="203.5" stroke="#0000ff" stroke-width="0.8"/>
<line x1="256" y1="208.74" x2="256" y2="204.5" stroke="#0000ff" stroke-width="0.7"/>
<line x1="241" y1="205.73" x2="241" y2="190" stroke="#0000ff" stroke-width="0.9"/>
<line x1="238.3" y1="205.27" x2="238.3" y2="186" stroke="#0000ff" stroke-width="0.9"/>
<line x1="236.6" y1="205.05" x2="236.6" y2="181" stroke="#0000ff" stroke-width="0.8"/>
</g>
<rect x="45.4" y="5.4" width="88.6" height="61.2" fill="#fff" stroke="#777" stroke-width="0.9"/>
<line x1="47.4" y1="13.95" x2="74.4" y2="13.95" stroke="#5c5c5c" stroke-width="1.6"/>
<text x="78.2" y="18.05" class="lg">1546.12nm</text>
<line x1="47.4" y1="28.95" x2="74.4" y2="28.95" stroke="#ff8c8c" stroke-width="1.6"/>
<text x="78.2" y="33.05" class="lg">1551.32nm</text>
<line x1="47.4" y1="44" x2="74.4" y2="44" stroke="#70ff70" stroke-width="1.6"/>
<text x="78.2" y="48.1" class="lg">1556.15nm</text>
<line x1="47.4" y1="58.9" x2="74.4" y2="58.9" stroke="#7070ff" stroke-width="1.6"/>
<text x="78.2" y="63" class="lg">1561.01nm</text>
<g stroke="#1c1c1c" stroke-width="1.4" fill="none">
<rect x="41.3" y="1.25" width="290.35" height="233.2"/>
<path d="M62.04,234.45 v-2.6 M62.04,1.25 v2.6 M82.78,234.45 v-4.2 M82.78,1.25 v4.2 M103.52,234.45 v-2.6 M103.52,1.25 v2.6 M124.26,234.45 v-4.2 M124.26,1.25 v4.2 M145,234.45 v-2.6 M145,1.25 v2.6 M165.74,234.45 v-4.2 M165.74,1.25 v4.2 M186.47,234.45 v-2.6 M186.47,1.25 v2.6 M207.21,234.45 v-4.2 M207.21,1.25 v4.2 M227.95,234.45 v-2.6 M227.95,1.25 v2.6 M248.69,234.45 v-4.2 M248.69,1.25 v4.2 M269.43,234.45 v-2.6 M269.43,1.25 v2.6 M290.17,234.45 v-4.2 M290.17,1.25 v4.2 M310.91,234.45 v-2.6 M310.91,1.25 v2.6 M41.3,15.65 h4.2 M331.65,15.65 h-4.2 M41.3,30.25 h2.6 M331.65,30.25 h-2.6 M41.3,44.84 h4.2 M331.65,44.84 h-4.2 M41.3,59.44 h2.6 M331.65,59.44 h-2.6 M41.3,74.03 h4.2 M331.65,74.03 h-4.2 M41.3,88.62 h2.6 M331.65,88.62 h-2.6 M41.3,103.22 h4.2 M331.65,103.22 h-4.2 M41.3,117.82 h2.6 M331.65,117.82 h-2.6 M41.3,132.41 h4.2 M331.65,132.41 h-4.2 M41.3,147 h2.6 M331.65,147 h-2.6 M41.3,161.6 h4.2 M331.65,161.6 h-4.2 M41.3,176.2 h2.6 M331.65,176.2 h-2.6 M41.3,190.79 h4.2 M331.65,190.79 h-4.2 M41.3,205.39 h2.6 M331.65,205.39 h-2.6 M41.3,219.98 h4.2 M331.65,219.98 h-4.2" stroke-width="1.2"/>
</g>
<text x="41.3" y="247.8" class="tk" text-anchor="middle">1520</text>
<text x="82.78" y="247.8" class="tk" text-anchor="middle">1530</text>
<text x="124.26" y="247.8" class="tk" text-anchor="middle">1540</text>
<text x="165.74" y="247.8" class="tk" text-anchor="middle">1550</text>
<text x="207.21" y="247.8" class="tk" text-anchor="middle">1560</text>
<text x="248.69" y="247.8" class="tk" text-anchor="middle">1570</text>
<text x="290.17" y="247.8" class="tk" text-anchor="middle">1580</text>
<text x="331.65" y="247.8" class="tk" text-anchor="middle">1590</text>
<text x="35.6" y="18.95" class="tk" text-anchor="end">0</text>
<text x="35.6" y="48.14" class="tk" text-anchor="end">-10</text>
<text x="35.6" y="77.33" class="tk" text-anchor="end">-20</text>
<text x="35.6" y="106.52" class="tk" text-anchor="end">-30</text>
<text x="35.6" y="135.71" class="tk" text-anchor="end">-40</text>
<text x="35.6" y="164.9" class="tk" text-anchor="end">-50</text>
<text x="35.6" y="194.09" class="tk" text-anchor="end">-60</text>
<text x="35.6" y="223.28" class="tk" text-anchor="end">-70</text>
<text x="186.3" y="265.8" class="lb" text-anchor="middle">Wavelength(nm)</text>
<text transform="translate(9.9,111.8) rotate(-90)" class="lb" text-anchor="middle">Power(dBm)</text>
</svg>
</body>
</html>
